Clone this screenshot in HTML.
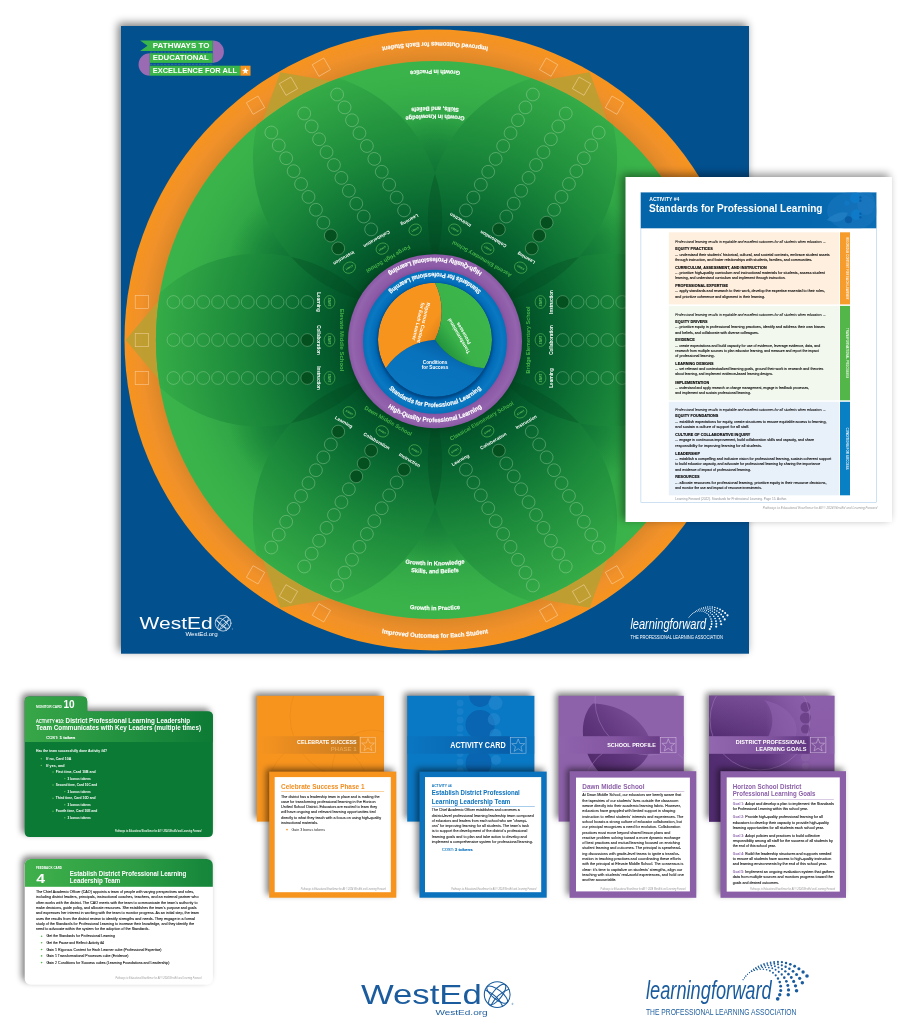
<!DOCTYPE html>
<html lang="en"><head><meta charset="utf-8"><title>Pathways to Educational Excellence for All</title>
<style>html,body{margin:0;padding:0;background:#fff}svg{display:block;will-change:transform;-webkit-font-smoothing:antialiased}text{font-family:'Liberation Sans',sans-serif}</style></head>
<body>
<svg width="909" height="1024" viewBox="0 0 909 1024">
<rect width="909" height="1024" fill="#ffffff"/>
<defs>
<filter id="shB" x="-5%" y="-5%" width="110%" height="110%"><feGaussianBlur stdDeviation="4.5"/></filter>
<filter id="shC" x="-10%" y="-10%" width="120%" height="120%"><feGaussianBlur stdDeviation="3"/></filter>
<filter id="blur1"><feGaussianBlur stdDeviation="1.2"/></filter>
<filter id="blur2"><feGaussianBlur stdDeviation="2.5"/></filter>
<radialGradient id="gOr" gradientUnits="userSpaceOnUse" cx="435.0" cy="340.0" r="310.5"><stop offset="0.895" stop-color="#db8628"/><stop offset="0.95" stop-color="#f0912a"/><stop offset="1" stop-color="#f7941e"/></radialGradient>
<radialGradient id="gGr" gradientUnits="userSpaceOnUse" cx="435.0" cy="340.0" r="279.1"><stop offset="0.25" stop-color="#045c2c"/><stop offset="0.55" stop-color="#0f7535"/><stop offset="0.605" stop-color="#147b37"/><stop offset="0.716" stop-color="#25963f"/><stop offset="0.806" stop-color="#31a746"/><stop offset="0.896" stop-color="#38b049"/><stop offset="0.96" stop-color="#3ab34a"/><stop offset="1" stop-color="#3ab44a"/></radialGradient>
<radialGradient id="gPet" gradientUnits="userSpaceOnUse" cx="0" cy="0" r="279.1"><stop offset="0.30" stop-color="#034d26"/><stop offset="0.41" stop-color="#045e2d"/><stop offset="0.555" stop-color="#0f7535"/><stop offset="0.70" stop-color="#1c8a3b"/><stop offset="0.84" stop-color="#289a41"/><stop offset="1" stop-color="#35ac47"/></radialGradient>
<radialGradient id="gTip" cx="0.5" cy="0.5" r="0.5"><stop offset="0" stop-color="#0f7535" stop-opacity="0.85"/><stop offset="0.5" stop-color="#17823a" stop-opacity="0.6"/><stop offset="0.8" stop-color="#1f8f3d" stop-opacity="0.3"/><stop offset="1" stop-color="#249640" stop-opacity="0"/></radialGradient>
<clipPath id="cpP0"><path transform="translate(435.0 340.0) rotate(0)" d="M41.00 0 A147.04 147.04 0 0 1 309.00 0 A147.04 147.04 0 0 1 41.00 0 Z"/></clipPath>
<clipPath id="cpP60"><path transform="translate(435.0 340.0) rotate(60)" d="M41.00 0 A147.04 147.04 0 0 1 309.00 0 A147.04 147.04 0 0 1 41.00 0 Z"/></clipPath>
<clipPath id="cpP120"><path transform="translate(435.0 340.0) rotate(120)" d="M41.00 0 A147.04 147.04 0 0 1 309.00 0 A147.04 147.04 0 0 1 41.00 0 Z"/></clipPath>
<clipPath id="cpP180"><path transform="translate(435.0 340.0) rotate(180)" d="M41.00 0 A147.04 147.04 0 0 1 309.00 0 A147.04 147.04 0 0 1 41.00 0 Z"/></clipPath>
<clipPath id="cpP240"><path transform="translate(435.0 340.0) rotate(240)" d="M41.00 0 A147.04 147.04 0 0 1 309.00 0 A147.04 147.04 0 0 1 41.00 0 Z"/></clipPath>
<clipPath id="cpP300"><path transform="translate(435.0 340.0) rotate(300)" d="M41.00 0 A147.04 147.04 0 0 1 309.00 0 A147.04 147.04 0 0 1 41.00 0 Z"/></clipPath>
<clipPath id="clipGr"><circle cx="435.0" cy="340.0" r="279.1"/></clipPath>
<clipPath id="clipBoard"><rect x="121" y="26" width="628" height="627.7"/></clipPath>
</defs>
<rect x="118" y="23" width="629" height="628" fill="#000" opacity="0.5" filter="url(#shB)"/>
<rect x="121" y="26" width="628" height="627.7" fill="#03508f"/>
<g clip-path="url(#clipBoard)">
<circle cx="435.0" cy="340.0" r="310.5" fill="url(#gOr)"/>
<path transform="translate(435.0 340.0) rotate(180)" d="M309.3 0 L272 -44.5 L272 44.5 Z" fill="#bd9f32" opacity="0.95"/>
<path transform="translate(435.0 340.0) rotate(240)" d="M309.3 0 L272 -44.5 L272 44.5 Z" fill="#bd9f32" opacity="0.95"/>
<path transform="translate(435.0 340.0) rotate(300)" d="M309.3 0 L272 -44.5 L272 44.5 Z" fill="#bd9f32" opacity="0.95"/>
<path transform="translate(435.0 340.0) rotate(0)" d="M309.3 0 L272 -44.5 L272 44.5 Z" fill="#bd9f32" opacity="0.95"/>
<path transform="translate(435.0 340.0) rotate(60)" d="M309.3 0 L272 -44.5 L272 44.5 Z" fill="#bd9f32" opacity="0.95"/>
<path transform="translate(435.0 340.0) rotate(120)" d="M309.3 0 L272 -44.5 L272 44.5 Z" fill="#bd9f32" opacity="0.95"/>
<circle cx="435.0" cy="340.0" r="279.1" fill="url(#gGr)"/>
<g clip-path="url(#clipGr)">
<circle cx="582.22" cy="425.00" r="58" fill="url(#gTip)"/>
<circle cx="435.00" cy="510.00" r="58" fill="url(#gTip)"/>
<circle cx="287.78" cy="425.00" r="58" fill="url(#gTip)"/>
<circle cx="287.78" cy="255.00" r="58" fill="url(#gTip)"/>
<circle cx="435.00" cy="170.00" r="58" fill="url(#gTip)"/>
<circle cx="582.22" cy="255.00" r="58" fill="url(#gTip)"/>
<path transform="translate(435.0 340.0) rotate(180)" d="M41.00 0 A147.04 147.04 0 0 1 309.00 0 A147.04 147.04 0 0 1 41.00 0 Z" fill="url(#gPet)"/>
<path transform="translate(435.0 340.0) rotate(240)" d="M41.00 0 A147.04 147.04 0 0 1 309.00 0 A147.04 147.04 0 0 1 41.00 0 Z" fill="url(#gPet)"/>
<path transform="translate(435.0 340.0) rotate(300)" d="M41.00 0 A147.04 147.04 0 0 1 309.00 0 A147.04 147.04 0 0 1 41.00 0 Z" fill="url(#gPet)"/>
<path transform="translate(435.0 340.0) rotate(0)" d="M41.00 0 A147.04 147.04 0 0 1 309.00 0 A147.04 147.04 0 0 1 41.00 0 Z" fill="url(#gPet)"/>
<path transform="translate(435.0 340.0) rotate(60)" d="M41.00 0 A147.04 147.04 0 0 1 309.00 0 A147.04 147.04 0 0 1 41.00 0 Z" fill="url(#gPet)"/>
<path transform="translate(435.0 340.0) rotate(120)" d="M41.00 0 A147.04 147.04 0 0 1 309.00 0 A147.04 147.04 0 0 1 41.00 0 Z" fill="url(#gPet)"/>
<g clip-path="url(#cpP0)"><path transform="translate(435.0 340.0) rotate(60)" d="M41.00 0 A147.04 147.04 0 0 1 309.00 0 A147.04 147.04 0 0 1 41.00 0 Z" fill="#03401c" opacity="0.28"/></g>
<g clip-path="url(#cpP60)"><path transform="translate(435.0 340.0) rotate(120)" d="M41.00 0 A147.04 147.04 0 0 1 309.00 0 A147.04 147.04 0 0 1 41.00 0 Z" fill="#03401c" opacity="0.28"/></g>
<g clip-path="url(#cpP120)"><path transform="translate(435.0 340.0) rotate(180)" d="M41.00 0 A147.04 147.04 0 0 1 309.00 0 A147.04 147.04 0 0 1 41.00 0 Z" fill="#03401c" opacity="0.28"/></g>
<g clip-path="url(#cpP180)"><path transform="translate(435.0 340.0) rotate(240)" d="M41.00 0 A147.04 147.04 0 0 1 309.00 0 A147.04 147.04 0 0 1 41.00 0 Z" fill="#03401c" opacity="0.28"/></g>
<g clip-path="url(#cpP240)"><path transform="translate(435.0 340.0) rotate(300)" d="M41.00 0 A147.04 147.04 0 0 1 309.00 0 A147.04 147.04 0 0 1 41.00 0 Z" fill="#03401c" opacity="0.28"/></g>
<g clip-path="url(#cpP300)"><path transform="translate(435.0 340.0) rotate(360)" d="M41.00 0 A147.04 147.04 0 0 1 309.00 0 A147.04 147.04 0 0 1 41.00 0 Z" fill="#03401c" opacity="0.28"/></g>
</g>
<g transform="translate(435.0 340.0) rotate(90)">
<circle cx="-38.0" cy="127.70" r="6.4" fill="none" stroke="#c4e6c4" stroke-opacity="0.55" stroke-width="0.55"/>
<circle cx="-38.0" cy="142.57" r="6.4" fill="none" stroke="#c4e6c4" stroke-opacity="0.55" stroke-width="0.55"/>
<circle cx="-38.0" cy="157.44" r="6.4" fill="none" stroke="#c4e6c4" stroke-opacity="0.55" stroke-width="0.55"/>
<circle cx="-38.0" cy="172.31" r="6.4" fill="none" stroke="#c4e6c4" stroke-opacity="0.55" stroke-width="0.55"/>
<circle cx="-38.0" cy="187.18" r="6.4" fill="none" stroke="#c4e6c4" stroke-opacity="0.55" stroke-width="0.55"/>
<circle cx="-38.0" cy="202.05" r="6.4" fill="none" stroke="#c4e6c4" stroke-opacity="0.55" stroke-width="0.55"/>
<circle cx="-38.0" cy="216.92" r="6.4" fill="none" stroke="#c4e6c4" stroke-opacity="0.55" stroke-width="0.55"/>
<circle cx="-38.0" cy="231.79" r="6.4" fill="none" stroke="#c4e6c4" stroke-opacity="0.55" stroke-width="0.55"/>
<circle cx="-38.0" cy="246.66" r="6.4" fill="none" stroke="#c4e6c4" stroke-opacity="0.55" stroke-width="0.55"/>
<circle cx="-38.0" cy="261.53" r="6.4" fill="none" stroke="#c4e6c4" stroke-opacity="0.55" stroke-width="0.55"/>
<rect x="-44.70" y="286.40" width="13.4" height="13.4" fill="none" stroke="#fde3c0" stroke-opacity="0.7" stroke-width="0.6"/>
<text x="-38.00" y="118.20" font-size="4.6" fill="#ffffff" font-weight="bold" text-anchor="middle">Learning</text>
<ellipse cx="-38.0" cy="105.5" rx="6.4" ry="5.4" fill="none" stroke="#5fc35a" stroke-width="0.55"/>
<text x="-38.00" y="106.60" font-size="2.6" fill="#5fc35a" font-weight="bold" text-anchor="middle">START</text>
<circle cx="0.0" cy="127.70" r="6.4" fill="#04511f" stroke="#c4e6c4" stroke-opacity="0.55" stroke-width="0.55"/>
<circle cx="0.0" cy="142.57" r="6.4" fill="none" stroke="#c4e6c4" stroke-opacity="0.55" stroke-width="0.55"/>
<circle cx="0.0" cy="157.44" r="6.4" fill="none" stroke="#c4e6c4" stroke-opacity="0.55" stroke-width="0.55"/>
<circle cx="0.0" cy="172.31" r="6.4" fill="none" stroke="#c4e6c4" stroke-opacity="0.55" stroke-width="0.55"/>
<circle cx="0.0" cy="187.18" r="6.4" fill="none" stroke="#c4e6c4" stroke-opacity="0.55" stroke-width="0.55"/>
<circle cx="0.0" cy="202.05" r="6.4" fill="none" stroke="#c4e6c4" stroke-opacity="0.55" stroke-width="0.55"/>
<circle cx="0.0" cy="216.92" r="6.4" fill="none" stroke="#c4e6c4" stroke-opacity="0.55" stroke-width="0.55"/>
<circle cx="0.0" cy="231.79" r="6.4" fill="none" stroke="#c4e6c4" stroke-opacity="0.55" stroke-width="0.55"/>
<circle cx="0.0" cy="246.66" r="6.4" fill="none" stroke="#c4e6c4" stroke-opacity="0.55" stroke-width="0.55"/>
<circle cx="0.0" cy="261.53" r="6.4" fill="none" stroke="#c4e6c4" stroke-opacity="0.55" stroke-width="0.55"/>
<rect x="-6.70" y="286.40" width="13.4" height="13.4" fill="none" stroke="#fde3c0" stroke-opacity="0.7" stroke-width="0.6"/>
<text x="0.00" y="118.20" font-size="4.6" fill="#ffffff" font-weight="bold" text-anchor="middle">Collaboration</text>
<ellipse cx="0.0" cy="105.5" rx="6.4" ry="5.4" fill="none" stroke="#5fc35a" stroke-width="0.55"/>
<text x="0.00" y="106.60" font-size="2.6" fill="#5fc35a" font-weight="bold" text-anchor="middle">START</text>
<circle cx="38.0" cy="127.70" r="6.4" fill="#04511f" stroke="#c4e6c4" stroke-opacity="0.55" stroke-width="0.55"/>
<circle cx="38.0" cy="142.57" r="6.4" fill="none" stroke="#c4e6c4" stroke-opacity="0.55" stroke-width="0.55"/>
<circle cx="38.0" cy="157.44" r="6.4" fill="none" stroke="#c4e6c4" stroke-opacity="0.55" stroke-width="0.55"/>
<circle cx="38.0" cy="172.31" r="6.4" fill="none" stroke="#c4e6c4" stroke-opacity="0.55" stroke-width="0.55"/>
<circle cx="38.0" cy="187.18" r="6.4" fill="none" stroke="#c4e6c4" stroke-opacity="0.55" stroke-width="0.55"/>
<circle cx="38.0" cy="202.05" r="6.4" fill="none" stroke="#c4e6c4" stroke-opacity="0.55" stroke-width="0.55"/>
<circle cx="38.0" cy="216.92" r="6.4" fill="none" stroke="#c4e6c4" stroke-opacity="0.55" stroke-width="0.55"/>
<circle cx="38.0" cy="231.79" r="6.4" fill="none" stroke="#c4e6c4" stroke-opacity="0.55" stroke-width="0.55"/>
<circle cx="38.0" cy="246.66" r="6.4" fill="none" stroke="#c4e6c4" stroke-opacity="0.55" stroke-width="0.55"/>
<circle cx="38.0" cy="261.53" r="6.4" fill="none" stroke="#c4e6c4" stroke-opacity="0.55" stroke-width="0.55"/>
<rect x="31.30" y="286.40" width="13.4" height="13.4" fill="none" stroke="#fde3c0" stroke-opacity="0.7" stroke-width="0.6"/>
<text x="38.00" y="118.20" font-size="4.6" fill="#ffffff" font-weight="bold" text-anchor="middle">Instruction</text>
<ellipse cx="38.0" cy="105.5" rx="6.4" ry="5.4" fill="none" stroke="#5fc35a" stroke-width="0.55"/>
<text x="38.00" y="106.60" font-size="2.6" fill="#5fc35a" font-weight="bold" text-anchor="middle">START</text>
<text x="0.00" y="95.40" font-size="5.6" fill="#47b44b" font-weight="bold" text-anchor="middle" font-family="'Liberation Serif', serif" textLength="62.70" lengthAdjust="spacingAndGlyphs">Elevate Middle School</text>
</g>
<g transform="translate(435.0 340.0) rotate(150)">
<circle cx="-38.0" cy="127.70" r="6.4" fill="none" stroke="#c4e6c4" stroke-opacity="0.55" stroke-width="0.55"/>
<circle cx="-38.0" cy="142.57" r="6.4" fill="none" stroke="#c4e6c4" stroke-opacity="0.55" stroke-width="0.55"/>
<circle cx="-38.0" cy="157.44" r="6.4" fill="none" stroke="#c4e6c4" stroke-opacity="0.55" stroke-width="0.55"/>
<circle cx="-38.0" cy="172.31" r="6.4" fill="none" stroke="#c4e6c4" stroke-opacity="0.55" stroke-width="0.55"/>
<circle cx="-38.0" cy="187.18" r="6.4" fill="none" stroke="#c4e6c4" stroke-opacity="0.55" stroke-width="0.55"/>
<circle cx="-38.0" cy="202.05" r="6.4" fill="none" stroke="#c4e6c4" stroke-opacity="0.55" stroke-width="0.55"/>
<circle cx="-38.0" cy="216.92" r="6.4" fill="none" stroke="#c4e6c4" stroke-opacity="0.55" stroke-width="0.55"/>
<circle cx="-38.0" cy="231.79" r="6.4" fill="none" stroke="#c4e6c4" stroke-opacity="0.55" stroke-width="0.55"/>
<circle cx="-38.0" cy="246.66" r="6.4" fill="none" stroke="#c4e6c4" stroke-opacity="0.55" stroke-width="0.55"/>
<circle cx="-38.0" cy="261.53" r="6.4" fill="none" stroke="#c4e6c4" stroke-opacity="0.55" stroke-width="0.55"/>
<rect x="-44.70" y="286.40" width="13.4" height="13.4" fill="none" stroke="#fde3c0" stroke-opacity="0.7" stroke-width="0.6"/>
<text x="-38.00" y="118.20" font-size="4.6" fill="#ffffff" font-weight="bold" text-anchor="middle">Learning</text>
<ellipse cx="-38.0" cy="105.5" rx="6.4" ry="5.4" fill="none" stroke="#5fc35a" stroke-width="0.55"/>
<text x="-38.00" y="106.60" font-size="2.6" fill="#5fc35a" font-weight="bold" text-anchor="middle">START</text>
<circle cx="0.0" cy="127.70" r="6.4" fill="none" stroke="#c4e6c4" stroke-opacity="0.55" stroke-width="0.55"/>
<circle cx="0.0" cy="142.57" r="6.4" fill="none" stroke="#c4e6c4" stroke-opacity="0.55" stroke-width="0.55"/>
<circle cx="0.0" cy="157.44" r="6.4" fill="none" stroke="#c4e6c4" stroke-opacity="0.55" stroke-width="0.55"/>
<circle cx="0.0" cy="172.31" r="6.4" fill="none" stroke="#c4e6c4" stroke-opacity="0.55" stroke-width="0.55"/>
<circle cx="0.0" cy="187.18" r="6.4" fill="none" stroke="#c4e6c4" stroke-opacity="0.55" stroke-width="0.55"/>
<circle cx="0.0" cy="202.05" r="6.4" fill="none" stroke="#c4e6c4" stroke-opacity="0.55" stroke-width="0.55"/>
<circle cx="0.0" cy="216.92" r="6.4" fill="none" stroke="#c4e6c4" stroke-opacity="0.55" stroke-width="0.55"/>
<circle cx="0.0" cy="231.79" r="6.4" fill="none" stroke="#c4e6c4" stroke-opacity="0.55" stroke-width="0.55"/>
<circle cx="0.0" cy="246.66" r="6.4" fill="none" stroke="#c4e6c4" stroke-opacity="0.55" stroke-width="0.55"/>
<circle cx="0.0" cy="261.53" r="6.4" fill="none" stroke="#c4e6c4" stroke-opacity="0.55" stroke-width="0.55"/>
<rect x="-6.70" y="286.40" width="13.4" height="13.4" fill="none" stroke="#fde3c0" stroke-opacity="0.7" stroke-width="0.6"/>
<text x="0.00" y="118.20" font-size="4.6" fill="#ffffff" font-weight="bold" text-anchor="middle">Collaboration</text>
<ellipse cx="0.0" cy="105.5" rx="6.4" ry="5.4" fill="none" stroke="#5fc35a" stroke-width="0.55"/>
<text x="0.00" y="106.60" font-size="2.6" fill="#5fc35a" font-weight="bold" text-anchor="middle">START</text>
<circle cx="38.0" cy="127.70" r="6.4" fill="#04511f" stroke="#c4e6c4" stroke-opacity="0.55" stroke-width="0.55"/>
<circle cx="38.0" cy="142.57" r="6.4" fill="#04511f" stroke="#c4e6c4" stroke-opacity="0.55" stroke-width="0.55"/>
<circle cx="38.0" cy="157.44" r="6.4" fill="none" stroke="#c4e6c4" stroke-opacity="0.55" stroke-width="0.55"/>
<circle cx="38.0" cy="172.31" r="6.4" fill="none" stroke="#c4e6c4" stroke-opacity="0.55" stroke-width="0.55"/>
<circle cx="38.0" cy="187.18" r="6.4" fill="none" stroke="#c4e6c4" stroke-opacity="0.55" stroke-width="0.55"/>
<circle cx="38.0" cy="202.05" r="6.4" fill="none" stroke="#c4e6c4" stroke-opacity="0.55" stroke-width="0.55"/>
<circle cx="38.0" cy="216.92" r="6.4" fill="none" stroke="#c4e6c4" stroke-opacity="0.55" stroke-width="0.55"/>
<circle cx="38.0" cy="231.79" r="6.4" fill="none" stroke="#c4e6c4" stroke-opacity="0.55" stroke-width="0.55"/>
<circle cx="38.0" cy="246.66" r="6.4" fill="none" stroke="#c4e6c4" stroke-opacity="0.55" stroke-width="0.55"/>
<circle cx="38.0" cy="261.53" r="6.4" fill="none" stroke="#c4e6c4" stroke-opacity="0.55" stroke-width="0.55"/>
<rect x="31.30" y="286.40" width="13.4" height="13.4" fill="none" stroke="#fde3c0" stroke-opacity="0.7" stroke-width="0.6"/>
<text x="38.00" y="118.20" font-size="4.6" fill="#ffffff" font-weight="bold" text-anchor="middle">Instruction</text>
<ellipse cx="38.0" cy="105.5" rx="6.4" ry="5.4" fill="none" stroke="#5fc35a" stroke-width="0.55"/>
<text x="38.00" y="106.60" font-size="2.6" fill="#5fc35a" font-weight="bold" text-anchor="middle">START</text>
<text x="0.00" y="95.40" font-size="5.6" fill="#47b44b" font-weight="bold" text-anchor="middle" font-family="'Liberation Serif', serif" textLength="50.00" lengthAdjust="spacingAndGlyphs">Forge High School</text>
</g>
<g transform="translate(435.0 340.0) rotate(210)">
<circle cx="-38.0" cy="127.70" r="6.4" fill="#04511f" stroke="#c4e6c4" stroke-opacity="0.55" stroke-width="0.55"/>
<circle cx="-38.0" cy="142.57" r="6.4" fill="#04511f" stroke="#c4e6c4" stroke-opacity="0.55" stroke-width="0.55"/>
<circle cx="-38.0" cy="157.44" r="6.4" fill="#04511f" stroke="#c4e6c4" stroke-opacity="0.55" stroke-width="0.55"/>
<circle cx="-38.0" cy="172.31" r="6.4" fill="none" stroke="#c4e6c4" stroke-opacity="0.55" stroke-width="0.55"/>
<circle cx="-38.0" cy="187.18" r="6.4" fill="none" stroke="#c4e6c4" stroke-opacity="0.55" stroke-width="0.55"/>
<circle cx="-38.0" cy="202.05" r="6.4" fill="none" stroke="#c4e6c4" stroke-opacity="0.55" stroke-width="0.55"/>
<circle cx="-38.0" cy="216.92" r="6.4" fill="none" stroke="#c4e6c4" stroke-opacity="0.55" stroke-width="0.55"/>
<circle cx="-38.0" cy="231.79" r="6.4" fill="none" stroke="#c4e6c4" stroke-opacity="0.55" stroke-width="0.55"/>
<circle cx="-38.0" cy="246.66" r="6.4" fill="none" stroke="#c4e6c4" stroke-opacity="0.55" stroke-width="0.55"/>
<circle cx="-38.0" cy="261.53" r="6.4" fill="none" stroke="#c4e6c4" stroke-opacity="0.55" stroke-width="0.55"/>
<rect x="-44.70" y="286.40" width="13.4" height="13.4" fill="none" stroke="#fde3c0" stroke-opacity="0.7" stroke-width="0.6"/>
<text x="-38.00" y="118.20" font-size="4.6" fill="#ffffff" font-weight="bold" text-anchor="middle">Learning</text>
<ellipse cx="-38.0" cy="105.5" rx="6.4" ry="5.4" fill="none" stroke="#5fc35a" stroke-width="0.55"/>
<text x="-38.00" y="106.60" font-size="2.6" fill="#5fc35a" font-weight="bold" text-anchor="middle">START</text>
<circle cx="0.0" cy="127.70" r="6.4" fill="#04511f" stroke="#c4e6c4" stroke-opacity="0.55" stroke-width="0.55"/>
<circle cx="0.0" cy="142.57" r="6.4" fill="none" stroke="#c4e6c4" stroke-opacity="0.55" stroke-width="0.55"/>
<circle cx="0.0" cy="157.44" r="6.4" fill="none" stroke="#c4e6c4" stroke-opacity="0.55" stroke-width="0.55"/>
<circle cx="0.0" cy="172.31" r="6.4" fill="none" stroke="#c4e6c4" stroke-opacity="0.55" stroke-width="0.55"/>
<circle cx="0.0" cy="187.18" r="6.4" fill="none" stroke="#c4e6c4" stroke-opacity="0.55" stroke-width="0.55"/>
<circle cx="0.0" cy="202.05" r="6.4" fill="none" stroke="#c4e6c4" stroke-opacity="0.55" stroke-width="0.55"/>
<circle cx="0.0" cy="216.92" r="6.4" fill="none" stroke="#c4e6c4" stroke-opacity="0.55" stroke-width="0.55"/>
<circle cx="0.0" cy="231.79" r="6.4" fill="none" stroke="#c4e6c4" stroke-opacity="0.55" stroke-width="0.55"/>
<circle cx="0.0" cy="246.66" r="6.4" fill="none" stroke="#c4e6c4" stroke-opacity="0.55" stroke-width="0.55"/>
<circle cx="0.0" cy="261.53" r="6.4" fill="none" stroke="#c4e6c4" stroke-opacity="0.55" stroke-width="0.55"/>
<rect x="-6.70" y="286.40" width="13.4" height="13.4" fill="none" stroke="#fde3c0" stroke-opacity="0.7" stroke-width="0.6"/>
<text x="0.00" y="118.20" font-size="4.6" fill="#ffffff" font-weight="bold" text-anchor="middle">Collaboration</text>
<ellipse cx="0.0" cy="105.5" rx="6.4" ry="5.4" fill="none" stroke="#5fc35a" stroke-width="0.55"/>
<text x="0.00" y="106.60" font-size="2.6" fill="#5fc35a" font-weight="bold" text-anchor="middle">START</text>
<circle cx="38.0" cy="127.70" r="6.4" fill="none" stroke="#c4e6c4" stroke-opacity="0.55" stroke-width="0.55"/>
<circle cx="38.0" cy="142.57" r="6.4" fill="none" stroke="#c4e6c4" stroke-opacity="0.55" stroke-width="0.55"/>
<circle cx="38.0" cy="157.44" r="6.4" fill="none" stroke="#c4e6c4" stroke-opacity="0.55" stroke-width="0.55"/>
<circle cx="38.0" cy="172.31" r="6.4" fill="none" stroke="#c4e6c4" stroke-opacity="0.55" stroke-width="0.55"/>
<circle cx="38.0" cy="187.18" r="6.4" fill="none" stroke="#c4e6c4" stroke-opacity="0.55" stroke-width="0.55"/>
<circle cx="38.0" cy="202.05" r="6.4" fill="none" stroke="#c4e6c4" stroke-opacity="0.55" stroke-width="0.55"/>
<circle cx="38.0" cy="216.92" r="6.4" fill="none" stroke="#c4e6c4" stroke-opacity="0.55" stroke-width="0.55"/>
<circle cx="38.0" cy="231.79" r="6.4" fill="none" stroke="#c4e6c4" stroke-opacity="0.55" stroke-width="0.55"/>
<circle cx="38.0" cy="246.66" r="6.4" fill="none" stroke="#c4e6c4" stroke-opacity="0.55" stroke-width="0.55"/>
<circle cx="38.0" cy="261.53" r="6.4" fill="none" stroke="#c4e6c4" stroke-opacity="0.55" stroke-width="0.55"/>
<rect x="31.30" y="286.40" width="13.4" height="13.4" fill="none" stroke="#fde3c0" stroke-opacity="0.7" stroke-width="0.6"/>
<text x="38.00" y="118.20" font-size="4.6" fill="#ffffff" font-weight="bold" text-anchor="middle">Instruction</text>
<ellipse cx="38.0" cy="105.5" rx="6.4" ry="5.4" fill="none" stroke="#5fc35a" stroke-width="0.55"/>
<text x="38.00" y="106.60" font-size="2.6" fill="#5fc35a" font-weight="bold" text-anchor="middle">START</text>
<text x="0.00" y="95.40" font-size="5.6" fill="#47b44b" font-weight="bold" text-anchor="middle" font-family="'Liberation Serif', serif" textLength="67.50" lengthAdjust="spacingAndGlyphs">Ascend Elementary School</text>
</g>
<g transform="translate(435.0 340.0) rotate(-90)">
<circle cx="-38.0" cy="127.70" r="6.4" fill="none" stroke="#c4e6c4" stroke-opacity="0.55" stroke-width="0.55"/>
<circle cx="-38.0" cy="142.57" r="6.4" fill="none" stroke="#c4e6c4" stroke-opacity="0.55" stroke-width="0.55"/>
<circle cx="-38.0" cy="157.44" r="6.4" fill="none" stroke="#c4e6c4" stroke-opacity="0.55" stroke-width="0.55"/>
<circle cx="-38.0" cy="172.31" r="6.4" fill="none" stroke="#c4e6c4" stroke-opacity="0.55" stroke-width="0.55"/>
<circle cx="-38.0" cy="187.18" r="6.4" fill="none" stroke="#c4e6c4" stroke-opacity="0.55" stroke-width="0.55"/>
<circle cx="-38.0" cy="202.05" r="6.4" fill="none" stroke="#c4e6c4" stroke-opacity="0.55" stroke-width="0.55"/>
<circle cx="-38.0" cy="216.92" r="6.4" fill="none" stroke="#c4e6c4" stroke-opacity="0.55" stroke-width="0.55"/>
<circle cx="-38.0" cy="231.79" r="6.4" fill="none" stroke="#c4e6c4" stroke-opacity="0.55" stroke-width="0.55"/>
<circle cx="-38.0" cy="246.66" r="6.4" fill="none" stroke="#c4e6c4" stroke-opacity="0.55" stroke-width="0.55"/>
<circle cx="-38.0" cy="261.53" r="6.4" fill="none" stroke="#c4e6c4" stroke-opacity="0.55" stroke-width="0.55"/>
<rect x="-44.70" y="286.40" width="13.4" height="13.4" fill="none" stroke="#fde3c0" stroke-opacity="0.7" stroke-width="0.6"/>
<text x="-38.00" y="118.20" font-size="4.6" fill="#ffffff" font-weight="bold" text-anchor="middle">Learning</text>
<ellipse cx="-38.0" cy="105.5" rx="6.4" ry="5.4" fill="none" stroke="#5fc35a" stroke-width="0.55"/>
<text x="-38.00" y="106.60" font-size="2.6" fill="#5fc35a" font-weight="bold" text-anchor="middle">START</text>
<circle cx="0.0" cy="127.70" r="6.4" fill="none" stroke="#c4e6c4" stroke-opacity="0.55" stroke-width="0.55"/>
<circle cx="0.0" cy="142.57" r="6.4" fill="none" stroke="#c4e6c4" stroke-opacity="0.55" stroke-width="0.55"/>
<circle cx="0.0" cy="157.44" r="6.4" fill="none" stroke="#c4e6c4" stroke-opacity="0.55" stroke-width="0.55"/>
<circle cx="0.0" cy="172.31" r="6.4" fill="none" stroke="#c4e6c4" stroke-opacity="0.55" stroke-width="0.55"/>
<circle cx="0.0" cy="187.18" r="6.4" fill="none" stroke="#c4e6c4" stroke-opacity="0.55" stroke-width="0.55"/>
<circle cx="0.0" cy="202.05" r="6.4" fill="none" stroke="#c4e6c4" stroke-opacity="0.55" stroke-width="0.55"/>
<circle cx="0.0" cy="216.92" r="6.4" fill="none" stroke="#c4e6c4" stroke-opacity="0.55" stroke-width="0.55"/>
<circle cx="0.0" cy="231.79" r="6.4" fill="none" stroke="#c4e6c4" stroke-opacity="0.55" stroke-width="0.55"/>
<circle cx="0.0" cy="246.66" r="6.4" fill="none" stroke="#c4e6c4" stroke-opacity="0.55" stroke-width="0.55"/>
<circle cx="0.0" cy="261.53" r="6.4" fill="none" stroke="#c4e6c4" stroke-opacity="0.55" stroke-width="0.55"/>
<rect x="-6.70" y="286.40" width="13.4" height="13.4" fill="none" stroke="#fde3c0" stroke-opacity="0.7" stroke-width="0.6"/>
<text x="0.00" y="118.20" font-size="4.6" fill="#ffffff" font-weight="bold" text-anchor="middle">Collaboration</text>
<ellipse cx="0.0" cy="105.5" rx="6.4" ry="5.4" fill="none" stroke="#5fc35a" stroke-width="0.55"/>
<text x="0.00" y="106.60" font-size="2.6" fill="#5fc35a" font-weight="bold" text-anchor="middle">START</text>
<circle cx="38.0" cy="127.70" r="6.4" fill="#04511f" stroke="#c4e6c4" stroke-opacity="0.55" stroke-width="0.55"/>
<circle cx="38.0" cy="142.57" r="6.4" fill="none" stroke="#c4e6c4" stroke-opacity="0.55" stroke-width="0.55"/>
<circle cx="38.0" cy="157.44" r="6.4" fill="none" stroke="#c4e6c4" stroke-opacity="0.55" stroke-width="0.55"/>
<circle cx="38.0" cy="172.31" r="6.4" fill="none" stroke="#c4e6c4" stroke-opacity="0.55" stroke-width="0.55"/>
<circle cx="38.0" cy="187.18" r="6.4" fill="none" stroke="#c4e6c4" stroke-opacity="0.55" stroke-width="0.55"/>
<circle cx="38.0" cy="202.05" r="6.4" fill="none" stroke="#c4e6c4" stroke-opacity="0.55" stroke-width="0.55"/>
<circle cx="38.0" cy="216.92" r="6.4" fill="none" stroke="#c4e6c4" stroke-opacity="0.55" stroke-width="0.55"/>
<circle cx="38.0" cy="231.79" r="6.4" fill="none" stroke="#c4e6c4" stroke-opacity="0.55" stroke-width="0.55"/>
<circle cx="38.0" cy="246.66" r="6.4" fill="none" stroke="#c4e6c4" stroke-opacity="0.55" stroke-width="0.55"/>
<circle cx="38.0" cy="261.53" r="6.4" fill="none" stroke="#c4e6c4" stroke-opacity="0.55" stroke-width="0.55"/>
<rect x="31.30" y="286.40" width="13.4" height="13.4" fill="none" stroke="#fde3c0" stroke-opacity="0.7" stroke-width="0.6"/>
<text x="38.00" y="118.20" font-size="4.6" fill="#ffffff" font-weight="bold" text-anchor="middle">Instruction</text>
<ellipse cx="38.0" cy="105.5" rx="6.4" ry="5.4" fill="none" stroke="#5fc35a" stroke-width="0.55"/>
<text x="38.00" y="106.60" font-size="2.6" fill="#5fc35a" font-weight="bold" text-anchor="middle">START</text>
<text x="0.00" y="95.40" font-size="5.6" fill="#47b44b" font-weight="bold" text-anchor="middle" font-family="'Liberation Serif', serif" textLength="67.00" lengthAdjust="spacingAndGlyphs">Bridge Elementary School</text>
</g>
<g transform="translate(435.0 340.0) rotate(-30)">
<circle cx="-38.0" cy="127.70" r="6.4" fill="none" stroke="#c4e6c4" stroke-opacity="0.55" stroke-width="0.55"/>
<circle cx="-38.0" cy="142.57" r="6.4" fill="none" stroke="#c4e6c4" stroke-opacity="0.55" stroke-width="0.55"/>
<circle cx="-38.0" cy="157.44" r="6.4" fill="none" stroke="#c4e6c4" stroke-opacity="0.55" stroke-width="0.55"/>
<circle cx="-38.0" cy="172.31" r="6.4" fill="none" stroke="#c4e6c4" stroke-opacity="0.55" stroke-width="0.55"/>
<circle cx="-38.0" cy="187.18" r="6.4" fill="none" stroke="#c4e6c4" stroke-opacity="0.55" stroke-width="0.55"/>
<circle cx="-38.0" cy="202.05" r="6.4" fill="none" stroke="#c4e6c4" stroke-opacity="0.55" stroke-width="0.55"/>
<circle cx="-38.0" cy="216.92" r="6.4" fill="none" stroke="#c4e6c4" stroke-opacity="0.55" stroke-width="0.55"/>
<circle cx="-38.0" cy="231.79" r="6.4" fill="none" stroke="#c4e6c4" stroke-opacity="0.55" stroke-width="0.55"/>
<circle cx="-38.0" cy="246.66" r="6.4" fill="none" stroke="#c4e6c4" stroke-opacity="0.55" stroke-width="0.55"/>
<circle cx="-38.0" cy="261.53" r="6.4" fill="none" stroke="#c4e6c4" stroke-opacity="0.55" stroke-width="0.55"/>
<rect x="-44.70" y="286.40" width="13.4" height="13.4" fill="none" stroke="#fde3c0" stroke-opacity="0.7" stroke-width="0.6"/>
<text x="-38.00" y="118.20" font-size="4.6" fill="#ffffff" font-weight="bold" text-anchor="middle">Learning</text>
<ellipse cx="-38.0" cy="105.5" rx="6.4" ry="5.4" fill="none" stroke="#5fc35a" stroke-width="0.55"/>
<text x="-38.00" y="106.60" font-size="2.6" fill="#5fc35a" font-weight="bold" text-anchor="middle">START</text>
<circle cx="0.0" cy="127.70" r="6.4" fill="#04511f" stroke="#c4e6c4" stroke-opacity="0.55" stroke-width="0.55"/>
<circle cx="0.0" cy="142.57" r="6.4" fill="none" stroke="#c4e6c4" stroke-opacity="0.55" stroke-width="0.55"/>
<circle cx="0.0" cy="157.44" r="6.4" fill="none" stroke="#c4e6c4" stroke-opacity="0.55" stroke-width="0.55"/>
<circle cx="0.0" cy="172.31" r="6.4" fill="none" stroke="#c4e6c4" stroke-opacity="0.55" stroke-width="0.55"/>
<circle cx="0.0" cy="187.18" r="6.4" fill="none" stroke="#c4e6c4" stroke-opacity="0.55" stroke-width="0.55"/>
<circle cx="0.0" cy="202.05" r="6.4" fill="none" stroke="#c4e6c4" stroke-opacity="0.55" stroke-width="0.55"/>
<circle cx="0.0" cy="216.92" r="6.4" fill="none" stroke="#c4e6c4" stroke-opacity="0.55" stroke-width="0.55"/>
<circle cx="0.0" cy="231.79" r="6.4" fill="none" stroke="#c4e6c4" stroke-opacity="0.55" stroke-width="0.55"/>
<circle cx="0.0" cy="246.66" r="6.4" fill="none" stroke="#c4e6c4" stroke-opacity="0.55" stroke-width="0.55"/>
<circle cx="0.0" cy="261.53" r="6.4" fill="none" stroke="#c4e6c4" stroke-opacity="0.55" stroke-width="0.55"/>
<rect x="-6.70" y="286.40" width="13.4" height="13.4" fill="none" stroke="#fde3c0" stroke-opacity="0.7" stroke-width="0.6"/>
<text x="0.00" y="118.20" font-size="4.6" fill="#ffffff" font-weight="bold" text-anchor="middle">Collaboration</text>
<ellipse cx="0.0" cy="105.5" rx="6.4" ry="5.4" fill="none" stroke="#5fc35a" stroke-width="0.55"/>
<text x="0.00" y="106.60" font-size="2.6" fill="#5fc35a" font-weight="bold" text-anchor="middle">START</text>
<circle cx="38.0" cy="127.70" r="6.4" fill="none" stroke="#c4e6c4" stroke-opacity="0.55" stroke-width="0.55"/>
<circle cx="38.0" cy="142.57" r="6.4" fill="none" stroke="#c4e6c4" stroke-opacity="0.55" stroke-width="0.55"/>
<circle cx="38.0" cy="157.44" r="6.4" fill="none" stroke="#c4e6c4" stroke-opacity="0.55" stroke-width="0.55"/>
<circle cx="38.0" cy="172.31" r="6.4" fill="none" stroke="#c4e6c4" stroke-opacity="0.55" stroke-width="0.55"/>
<circle cx="38.0" cy="187.18" r="6.4" fill="none" stroke="#c4e6c4" stroke-opacity="0.55" stroke-width="0.55"/>
<circle cx="38.0" cy="202.05" r="6.4" fill="none" stroke="#c4e6c4" stroke-opacity="0.55" stroke-width="0.55"/>
<circle cx="38.0" cy="216.92" r="6.4" fill="none" stroke="#c4e6c4" stroke-opacity="0.55" stroke-width="0.55"/>
<circle cx="38.0" cy="231.79" r="6.4" fill="none" stroke="#c4e6c4" stroke-opacity="0.55" stroke-width="0.55"/>
<circle cx="38.0" cy="246.66" r="6.4" fill="none" stroke="#c4e6c4" stroke-opacity="0.55" stroke-width="0.55"/>
<circle cx="38.0" cy="261.53" r="6.4" fill="none" stroke="#c4e6c4" stroke-opacity="0.55" stroke-width="0.55"/>
<rect x="31.30" y="286.40" width="13.4" height="13.4" fill="none" stroke="#fde3c0" stroke-opacity="0.7" stroke-width="0.6"/>
<text x="38.00" y="118.20" font-size="4.6" fill="#ffffff" font-weight="bold" text-anchor="middle">Instruction</text>
<ellipse cx="38.0" cy="105.5" rx="6.4" ry="5.4" fill="none" stroke="#5fc35a" stroke-width="0.55"/>
<text x="38.00" y="106.60" font-size="2.6" fill="#5fc35a" font-weight="bold" text-anchor="middle">START</text>
<text x="0.00" y="95.40" font-size="5.6" fill="#47b44b" font-weight="bold" text-anchor="middle" font-family="'Liberation Serif', serif" textLength="72.50" lengthAdjust="spacingAndGlyphs">Classical Elementary School</text>
</g>
<g transform="translate(435.0 340.0) rotate(30)">
<circle cx="-38.0" cy="127.70" r="6.4" fill="#04511f" stroke="#c4e6c4" stroke-opacity="0.55" stroke-width="0.55"/>
<circle cx="-38.0" cy="142.57" r="6.4" fill="none" stroke="#c4e6c4" stroke-opacity="0.55" stroke-width="0.55"/>
<circle cx="-38.0" cy="157.44" r="6.4" fill="none" stroke="#c4e6c4" stroke-opacity="0.55" stroke-width="0.55"/>
<circle cx="-38.0" cy="172.31" r="6.4" fill="none" stroke="#c4e6c4" stroke-opacity="0.55" stroke-width="0.55"/>
<circle cx="-38.0" cy="187.18" r="6.4" fill="none" stroke="#c4e6c4" stroke-opacity="0.55" stroke-width="0.55"/>
<circle cx="-38.0" cy="202.05" r="6.4" fill="none" stroke="#c4e6c4" stroke-opacity="0.55" stroke-width="0.55"/>
<circle cx="-38.0" cy="216.92" r="6.4" fill="none" stroke="#c4e6c4" stroke-opacity="0.55" stroke-width="0.55"/>
<circle cx="-38.0" cy="231.79" r="6.4" fill="none" stroke="#c4e6c4" stroke-opacity="0.55" stroke-width="0.55"/>
<circle cx="-38.0" cy="246.66" r="6.4" fill="none" stroke="#c4e6c4" stroke-opacity="0.55" stroke-width="0.55"/>
<circle cx="-38.0" cy="261.53" r="6.4" fill="none" stroke="#c4e6c4" stroke-opacity="0.55" stroke-width="0.55"/>
<rect x="-44.70" y="286.40" width="13.4" height="13.4" fill="none" stroke="#fde3c0" stroke-opacity="0.7" stroke-width="0.6"/>
<text x="-38.00" y="118.20" font-size="4.6" fill="#ffffff" font-weight="bold" text-anchor="middle">Learning</text>
<ellipse cx="-38.0" cy="105.5" rx="6.4" ry="5.4" fill="none" stroke="#5fc35a" stroke-width="0.55"/>
<text x="-38.00" y="106.60" font-size="2.6" fill="#5fc35a" font-weight="bold" text-anchor="middle">START</text>
<circle cx="0.0" cy="127.70" r="6.4" fill="#04511f" stroke="#c4e6c4" stroke-opacity="0.55" stroke-width="0.55"/>
<circle cx="0.0" cy="142.57" r="6.4" fill="#04511f" stroke="#c4e6c4" stroke-opacity="0.55" stroke-width="0.55"/>
<circle cx="0.0" cy="157.44" r="6.4" fill="#04511f" stroke="#c4e6c4" stroke-opacity="0.55" stroke-width="0.55"/>
<circle cx="0.0" cy="172.31" r="6.4" fill="none" stroke="#c4e6c4" stroke-opacity="0.55" stroke-width="0.55"/>
<circle cx="0.0" cy="187.18" r="6.4" fill="none" stroke="#c4e6c4" stroke-opacity="0.55" stroke-width="0.55"/>
<circle cx="0.0" cy="202.05" r="6.4" fill="none" stroke="#c4e6c4" stroke-opacity="0.55" stroke-width="0.55"/>
<circle cx="0.0" cy="216.92" r="6.4" fill="none" stroke="#c4e6c4" stroke-opacity="0.55" stroke-width="0.55"/>
<circle cx="0.0" cy="231.79" r="6.4" fill="none" stroke="#c4e6c4" stroke-opacity="0.55" stroke-width="0.55"/>
<circle cx="0.0" cy="246.66" r="6.4" fill="none" stroke="#c4e6c4" stroke-opacity="0.55" stroke-width="0.55"/>
<circle cx="0.0" cy="261.53" r="6.4" fill="none" stroke="#c4e6c4" stroke-opacity="0.55" stroke-width="0.55"/>
<rect x="-6.70" y="286.40" width="13.4" height="13.4" fill="none" stroke="#fde3c0" stroke-opacity="0.7" stroke-width="0.6"/>
<text x="0.00" y="118.20" font-size="4.6" fill="#ffffff" font-weight="bold" text-anchor="middle">Collaboration</text>
<ellipse cx="0.0" cy="105.5" rx="6.4" ry="5.4" fill="none" stroke="#5fc35a" stroke-width="0.55"/>
<text x="0.00" y="106.60" font-size="2.6" fill="#5fc35a" font-weight="bold" text-anchor="middle">START</text>
<circle cx="38.0" cy="127.70" r="6.4" fill="#04511f" stroke="#c4e6c4" stroke-opacity="0.55" stroke-width="0.55"/>
<circle cx="38.0" cy="142.57" r="6.4" fill="none" stroke="#c4e6c4" stroke-opacity="0.55" stroke-width="0.55"/>
<circle cx="38.0" cy="157.44" r="6.4" fill="none" stroke="#c4e6c4" stroke-opacity="0.55" stroke-width="0.55"/>
<circle cx="38.0" cy="172.31" r="6.4" fill="none" stroke="#c4e6c4" stroke-opacity="0.55" stroke-width="0.55"/>
<circle cx="38.0" cy="187.18" r="6.4" fill="none" stroke="#c4e6c4" stroke-opacity="0.55" stroke-width="0.55"/>
<circle cx="38.0" cy="202.05" r="6.4" fill="none" stroke="#c4e6c4" stroke-opacity="0.55" stroke-width="0.55"/>
<circle cx="38.0" cy="216.92" r="6.4" fill="none" stroke="#c4e6c4" stroke-opacity="0.55" stroke-width="0.55"/>
<circle cx="38.0" cy="231.79" r="6.4" fill="none" stroke="#c4e6c4" stroke-opacity="0.55" stroke-width="0.55"/>
<circle cx="38.0" cy="246.66" r="6.4" fill="none" stroke="#c4e6c4" stroke-opacity="0.55" stroke-width="0.55"/>
<circle cx="38.0" cy="261.53" r="6.4" fill="none" stroke="#c4e6c4" stroke-opacity="0.55" stroke-width="0.55"/>
<rect x="31.30" y="286.40" width="13.4" height="13.4" fill="none" stroke="#fde3c0" stroke-opacity="0.7" stroke-width="0.6"/>
<text x="38.00" y="118.20" font-size="4.6" fill="#ffffff" font-weight="bold" text-anchor="middle">Instruction</text>
<ellipse cx="38.0" cy="105.5" rx="6.4" ry="5.4" fill="none" stroke="#5fc35a" stroke-width="0.55"/>
<text x="38.00" y="106.60" font-size="2.6" fill="#5fc35a" font-weight="bold" text-anchor="middle">START</text>
<text x="0.00" y="95.40" font-size="5.6" fill="#47b44b" font-weight="bold" text-anchor="middle" font-family="'Liberation Serif', serif" textLength="54.00" lengthAdjust="spacingAndGlyphs">Dawn Middle School</text>
</g>
<path id="io0" d="M333.11 619.93 A297.9 297.9 0 0 0 536.89 619.93" fill="none"/>
<text font-size="6.3" font-weight="bold" fill="#fff" stroke="#fff" stroke-width="0.16" text-anchor="middle" textLength="107" lengthAdjust="spacingAndGlyphs"><textPath href="#io0" startOffset="50%">Improved Outcomes for Each Student</textPath></text>
<path id="gp0" d="M365.07 600.99 A270.2 270.2 0 0 0 504.93 600.99" fill="none"/>
<text font-size="6.0" font-weight="bold" fill="#fff" stroke="#fff" stroke-width="0.16" text-anchor="middle" textLength="50.5" lengthAdjust="spacingAndGlyphs"><textPath href="#gp0" startOffset="50%">Growth in Practice</textPath></text>
<path id="gk0" d="M357.91 551.81 A225.4 225.4 0 0 0 512.09 551.81" fill="none"/>
<text font-size="6.0" font-weight="bold" fill="#fff" stroke="#fff" stroke-width="0.16" text-anchor="middle" textLength="59.5" lengthAdjust="spacingAndGlyphs"><textPath href="#gk0" startOffset="50%">Growth in Knowledge</textPath></text>
<path id="gs0" d="M355.21 559.23 A233.3 233.3 0 0 0 514.79 559.23" fill="none"/>
<text font-size="6.0" font-weight="bold" fill="#fff" stroke="#fff" stroke-width="0.16" text-anchor="middle" textLength="48" lengthAdjust="spacingAndGlyphs"><textPath href="#gs0" startOffset="50%">Skills, and Beliefs</textPath></text>
<path id="io1" d="M536.89 60.07 A297.9 297.9 0 0 0 333.11 60.07" fill="none"/>
<text font-size="6.3" font-weight="bold" fill="#fff" stroke="#fff" stroke-width="0.16" text-anchor="middle" textLength="107" lengthAdjust="spacingAndGlyphs"><textPath href="#io1" startOffset="50%">Improved Outcomes for Each Student</textPath></text>
<path id="gp1" d="M504.93 79.01 A270.2 270.2 0 0 0 365.07 79.01" fill="none"/>
<text font-size="6.0" font-weight="bold" fill="#fff" stroke="#fff" stroke-width="0.16" text-anchor="middle" textLength="50.5" lengthAdjust="spacingAndGlyphs"><textPath href="#gp1" startOffset="50%">Growth in Practice</textPath></text>
<path id="gk1" d="M512.09 128.19 A225.4 225.4 0 0 0 357.91 128.19" fill="none"/>
<text font-size="6.0" font-weight="bold" fill="#fff" stroke="#fff" stroke-width="0.16" text-anchor="middle" textLength="59.5" lengthAdjust="spacingAndGlyphs"><textPath href="#gk1" startOffset="50%">Growth in Knowledge</textPath></text>
<path id="gs1" d="M514.79 120.77 A233.3 233.3 0 0 0 355.21 120.77" fill="none"/>
<text font-size="6.0" font-weight="bold" fill="#fff" stroke="#fff" stroke-width="0.16" text-anchor="middle" textLength="48" lengthAdjust="spacingAndGlyphs"><textPath href="#gs1" startOffset="50%">Skills, and Beliefs</textPath></text>
</g>
<g clip-path="url(#clipBoard)"><defs>
<radialGradient id="gPu" gradientUnits="userSpaceOnUse" cx="435.0" cy="341.2" r="87.0"><stop offset="0.80" stop-color="#7a4a96"/><stop offset="0.86" stop-color="#8c5aa6"/><stop offset="0.95" stop-color="#9464ae"/><stop offset="1" stop-color="#8a58a4"/></radialGradient>
<radialGradient id="gBl" gradientUnits="userSpaceOnUse" cx="435.0" cy="341.8" r="72.0"><stop offset="0.74" stop-color="#00539a"/><stop offset="0.82" stop-color="#0068b4"/><stop offset="0.93" stop-color="#0a78c2"/><stop offset="1" stop-color="#0670ba"/></radialGradient>
<linearGradient id="gLO" gradientUnits="userSpaceOnUse" x1="-40" y1="-30" x2="8" y2="6"><stop offset="0" stop-color="#f7941e"/><stop offset="0.62" stop-color="#f7941e"/><stop offset="0.85" stop-color="#e0801a"/><stop offset="1" stop-color="#a85a12"/></linearGradient>
<linearGradient id="gLG" gradientUnits="userSpaceOnUse" x1="48" y1="-20" x2="0" y2="16"><stop offset="0" stop-color="#3cb54a"/><stop offset="0.55" stop-color="#3ab249"/><stop offset="0.85" stop-color="#22913c"/><stop offset="1" stop-color="#0c6e2e"/></linearGradient>
<linearGradient id="gLB" gradientUnits="userSpaceOnUse" x1="-10" y1="56" x2="14" y2="0"><stop offset="0" stop-color="#0a76c0"/><stop offset="0.6" stop-color="#0872bc"/><stop offset="1" stop-color="#045a9e"/></linearGradient>
<clipPath id="clipIn"><circle cx="0" cy="0" r="57.0"/></clipPath>
</defs>
<circle cx="435.0" cy="341.0" r="90.0" fill="#033f1c" opacity="0.55" filter="url(#blur2)"/>
<circle cx="435.0" cy="341.2" r="87.0" fill="url(#gPu)"/>
<circle cx="435.0" cy="341.8" r="72.0" fill="url(#gBl)"/>
<circle cx="435.0" cy="341.3" r="58.2" fill="#003a70" opacity="0.6" filter="url(#blur1)"/>
<g transform="translate(435.0 339.8)"><g clip-path="url(#clipIn)">
<path d="M0 0 A64.0 64.0 0 0 0 49.36 28.50 A57.0 57.0 0 0 1 -49.36 28.50 A64.0 64.0 0 0 1 0 0 Z" fill="url(#gLB)"/>
<path d="M0 0 A64.0 64.0 0 0 0 -49.36 28.50 A57.0 57.0 0 0 1 -0.00 -57.00 A64.0 64.0 0 0 1 0 0 Z" fill="url(#gLO)"/>
<path d="M0 0 A64.0 64.0 0 0 0 0.00 -57.00 A57.0 57.0 0 0 1 49.36 28.50 A64.0 64.0 0 0 1 0 0 Z" fill="url(#gLG)"/>
</g>
<text x="0.00" y="24.10" font-size="4.7" fill="#fff" font-weight="bold" text-anchor="middle">Conditions</text>
<text x="0.00" y="29.30" font-size="4.7" fill="#fff" font-weight="bold" text-anchor="middle">for Success</text>
<g transform="translate(-13.8 -17.6) rotate(104)"><text x="0.00" y="-0.80" font-size="4.9" fill="#fff" font-weight="bold" text-anchor="middle">Rigorous Content</text>
<text x="0.00" y="4.60" font-size="4.9" fill="#fff" font-weight="bold" text-anchor="middle">for Each Learner</text>
</g>
<g transform="translate(26.0 -5.0) rotate(240)"><text x="0.00" y="-0.80" font-size="4.9" fill="#fff" font-weight="bold" text-anchor="middle">Transformational</text>
<text x="0.00" y="4.60" font-size="4.9" fill="#fff" font-weight="bold" text-anchor="middle">Processes</text>
</g>
</g>
<path id="hq0" d="M371.95 392.90 A82.3 82.3 0 0 0 498.05 392.90" fill="none"/>
<text font-size="6.4" font-weight="bold" fill="#fff" stroke="#fff" stroke-width="0.16" text-anchor="middle" textLength="100" lengthAdjust="spacingAndGlyphs"><textPath href="#hq0" startOffset="50%">High-Quality Professional Learning</textPath></text>
<path id="sp0" d="M376.80 373.60 A67.2 67.2 0 0 0 493.20 373.60" fill="none"/>
<text font-size="6.4" font-weight="bold" fill="#fff" stroke="#fff" stroke-width="0.16" text-anchor="middle" textLength="102" lengthAdjust="spacingAndGlyphs"><textPath href="#sp0" startOffset="50%">Standards for Professional Learning</textPath></text>
<path id="hq1" d="M498.05 287.10 A82.3 82.3 0 0 0 371.95 287.10" fill="none"/>
<text font-size="6.4" font-weight="bold" fill="#fff" stroke="#fff" stroke-width="0.16" text-anchor="middle" textLength="100" lengthAdjust="spacingAndGlyphs"><textPath href="#hq1" startOffset="50%">High-Quality Professional Learning</textPath></text>
<path id="sp1" d="M493.20 306.40 A67.2 67.2 0 0 0 376.80 306.40" fill="none"/>
<text font-size="6.4" font-weight="bold" fill="#fff" stroke="#fff" stroke-width="0.16" text-anchor="middle" textLength="102" lengthAdjust="spacingAndGlyphs"><textPath href="#sp1" startOffset="50%">Standards for Professional Learning</textPath></text>
</g>
<path d="M212.7 40.5 A11.2 11.2 0 0 1 212.7 62.9 Z" fill="#9a6bb3"/>
<path d="M149.8 53.2 A11.25 11.25 0 0 0 149.8 75.7 Z" fill="#9a6bb3"/>
<path d="M140.1 40.5 L212.7 40.5 L212.7 51.1 L140.1 51.1 L147.5 45.8 Z" fill="#39b54a"/>
<rect x="149.8" y="53.2" width="62.9" height="9.7" fill="#39b54a"/>
<rect x="149.8" y="65.7" width="90.5" height="10" fill="#39b54a"/>
<rect x="240.3" y="65.7" width="10.2" height="10" fill="#f7941e"/>
<polygon points="245.40,67.40 246.29,69.78 248.82,69.89 246.84,71.47 247.52,73.91 245.40,72.51 243.28,73.91 243.96,71.47 241.98,69.89 244.51,69.78" fill="#fff" stroke="none" stroke-width="0"/>
<path d="M150 52.15 H212.5 M150 64.3 H212.5" stroke="#fff" stroke-width="0.5" stroke-dasharray="0.5 0.9" opacity="0.75"/>
<text x="152.80" y="47.90" font-size="7.7" fill="#fff" font-weight="bold" textLength="56.70" lengthAdjust="spacingAndGlyphs">PATHWAYS TO</text>
<text x="152.80" y="60.40" font-size="7.7" fill="#fff" font-weight="bold" textLength="56.00" lengthAdjust="spacingAndGlyphs">EDUCATIONAL</text>
<text x="152.80" y="73.00" font-size="7.7" fill="#fff" font-weight="bold" textLength="84.20" lengthAdjust="spacingAndGlyphs">EXCELLENCE FOR ALL</text>
<text x="139.60" y="628.70" font-size="16.8" fill="#ffffff" textLength="73.00" lengthAdjust="spacingAndGlyphs">WestEd</text>
<g fill="none" stroke="#ffffff" stroke-width="0.65" stroke-linecap="round"><circle cx="223.1" cy="623.1700000000001" r="7.9"/><g transform="translate(223.1 623.1700000000001)"><ellipse cx="0" cy="0" rx="2.84" ry="7.74" transform="rotate(38)"/><ellipse cx="0" cy="0" rx="2.84" ry="7.74" transform="rotate(-52)"/><path d="M-7.35 -2.84 Q0.79 0.79 3.32 7.11"/><path d="M-3.95 6.79 Q0.00 -0.79 7.11 -3.32"/></g></g>
<circle cx="232.47" cy="629.00" r="0.42" fill="none" stroke="#ffffff" stroke-width="0.23"/>
<text x="217.60" y="635.60" font-size="4.5" fill="#ffffff" text-anchor="end" textLength="32.20" lengthAdjust="spacingAndGlyphs">WestEd.org</text>
<text x="630.40" y="628.90" font-size="14.2" fill="#ffffff" font-style="italic" textLength="75.80" lengthAdjust="spacingAndGlyphs">learningforward</text>
<text x="630.40" y="638.60" font-size="4.6" fill="#ffffff" textLength="92.50" lengthAdjust="spacingAndGlyphs">THE PROFESSIONAL LEARNING ASSOCIATION</text>
<g fill="#ffffff"><circle cx="688.91" cy="617.51" r="0.23"/><circle cx="689.72" cy="616.37" r="0.24"/><circle cx="690.66" cy="615.29" r="0.25"/><circle cx="691.74" cy="614.29" r="0.27"/><circle cx="692.97" cy="613.39" r="0.30"/><circle cx="694.34" cy="612.61" r="0.32"/><circle cx="695.86" cy="611.97" r="0.35"/><circle cx="697.51" cy="611.51" r="0.39"/><circle cx="699.29" cy="611.26" r="0.42"/><circle cx="701.18" cy="611.26" r="0.46"/><circle cx="703.14" cy="611.54" r="0.50"/><circle cx="705.13" cy="612.15" r="0.55"/><circle cx="706.97" cy="613.35" r="0.60"/><circle cx="708.62" cy="614.92" r="0.65"/><circle cx="710.00" cy="616.81" r="0.71"/><circle cx="711.03" cy="619.01" r="0.78"/><circle cx="711.60" cy="621.45" r="0.85"/><circle cx="711.63" cy="624.04" r="0.93"/><circle cx="711.05" cy="626.64" r="1.01"/><circle cx="709.80" cy="629.08" r="1.11"/><circle cx="688.90" cy="617.58" r="0.23"/><circle cx="689.70" cy="616.43" r="0.24"/><circle cx="690.62" cy="615.34" r="0.25"/><circle cx="691.66" cy="614.30" r="0.27"/><circle cx="692.82" cy="613.34" r="0.29"/><circle cx="694.11" cy="612.47" r="0.31"/><circle cx="695.54" cy="611.69" r="0.34"/><circle cx="697.09" cy="611.05" r="0.37"/><circle cx="698.77" cy="610.55" r="0.40"/><circle cx="700.57" cy="610.23" r="0.43"/><circle cx="702.48" cy="610.12" r="0.47"/><circle cx="704.48" cy="610.25" r="0.51"/><circle cx="706.55" cy="610.66" r="0.55"/><circle cx="708.55" cy="611.59" r="0.60"/><circle cx="710.46" cy="612.83" r="0.65"/><circle cx="712.23" cy="614.41" r="0.70"/><circle cx="713.79" cy="616.32" r="0.76"/><circle cx="715.05" cy="618.53" r="0.83"/><circle cx="715.93" cy="621.03" r="0.90"/><circle cx="716.34" cy="623.75" r="0.97"/><circle cx="716.19" cy="626.59" r="1.06"/><circle cx="688.91" cy="617.62" r="0.23"/><circle cx="689.71" cy="616.47" r="0.24"/><circle cx="690.61" cy="615.37" r="0.25"/><circle cx="691.62" cy="614.31" r="0.27"/><circle cx="692.74" cy="613.31" r="0.29"/><circle cx="693.98" cy="612.37" r="0.31"/><circle cx="695.34" cy="611.51" r="0.33"/><circle cx="696.82" cy="610.74" r="0.36"/><circle cx="698.42" cy="610.09" r="0.39"/><circle cx="700.15" cy="609.57" r="0.42"/><circle cx="702.00" cy="609.21" r="0.45"/><circle cx="703.96" cy="609.03" r="0.49"/><circle cx="706.01" cy="609.07" r="0.53"/><circle cx="708.13" cy="609.44" r="0.57"/><circle cx="710.26" cy="610.16" r="0.62"/><circle cx="712.37" cy="611.18" r="0.67"/><circle cx="714.40" cy="612.53" r="0.72"/><circle cx="716.31" cy="614.20" r="0.78"/><circle cx="718.02" cy="616.23" r="0.84"/><circle cx="719.46" cy="618.58" r="0.91"/><circle cx="720.55" cy="621.25" r="0.99"/><circle cx="721.19" cy="624.20" r="1.07"/><circle cx="688.93" cy="617.63" r="0.23"/><circle cx="689.74" cy="616.49" r="0.24"/><circle cx="690.63" cy="615.37" r="0.25"/><circle cx="691.62" cy="614.30" r="0.27"/><circle cx="692.71" cy="613.27" r="0.29"/><circle cx="693.91" cy="612.28" r="0.31"/><circle cx="695.23" cy="611.36" r="0.33"/><circle cx="696.66" cy="610.51" r="0.36"/><circle cx="698.21" cy="609.75" r="0.39"/><circle cx="699.88" cy="609.09" r="0.42"/><circle cx="701.68" cy="608.55" r="0.45"/><circle cx="703.61" cy="608.17" r="0.49"/><circle cx="705.64" cy="607.95" r="0.53"/><circle cx="707.79" cy="607.98" r="0.57"/><circle cx="710.01" cy="608.29" r="0.61"/><circle cx="712.29" cy="608.87" r="0.66"/><circle cx="714.59" cy="609.74" r="0.72"/><circle cx="716.87" cy="610.94" r="0.77"/><circle cx="719.09" cy="612.48" r="0.84"/><circle cx="721.18" cy="614.39" r="0.90"/><circle cx="723.07" cy="616.69" r="0.98"/><circle cx="724.68" cy="619.38" r="1.06"/><circle cx="688.98" cy="617.62" r="0.23"/><circle cx="689.79" cy="616.47" r="0.24"/><circle cx="690.67" cy="615.35" r="0.25"/><circle cx="691.65" cy="614.27" r="0.27"/><circle cx="692.73" cy="613.21" r="0.29"/><circle cx="693.91" cy="612.19" r="0.31"/><circle cx="695.19" cy="611.22" r="0.34"/><circle cx="696.59" cy="610.30" r="0.36"/><circle cx="698.11" cy="609.45" r="0.39"/><circle cx="699.76" cy="608.69" r="0.42"/><circle cx="701.54" cy="608.02" r="0.46"/><circle cx="703.45" cy="607.48" r="0.50"/><circle cx="705.49" cy="607.08" r="0.54"/><circle cx="707.66" cy="606.85" r="0.58"/><circle cx="709.95" cy="606.82" r="0.63"/><circle cx="712.35" cy="607.03" r="0.68"/><circle cx="714.85" cy="607.51" r="0.74"/><circle cx="717.42" cy="608.29" r="0.80"/><circle cx="720.02" cy="609.43" r="0.87"/><circle cx="722.61" cy="610.95" r="0.94"/><circle cx="725.12" cy="612.91" r="1.02"/><circle cx="727.48" cy="615.33" r="1.10"/></g>
<text x="360.90" y="1003.60" font-size="27.6" fill="#1b5c9e" textLength="120.80" lengthAdjust="spacingAndGlyphs">WestEd</text>
<g fill="none" stroke="#1b5c9e" stroke-width="1.05" stroke-linecap="round"><circle cx="497.2" cy="994.57" r="12.9"/><g transform="translate(497.2 994.57)"><ellipse cx="0" cy="0" rx="4.64" ry="12.64" transform="rotate(38)"/><ellipse cx="0" cy="0" rx="4.64" ry="12.64" transform="rotate(-52)"/><path d="M-12.00 -4.64 Q1.29 1.29 5.42 11.61"/><path d="M-6.45 11.09 Q0.00 -1.29 11.61 -5.42"/></g></g>
<circle cx="512.50" cy="1003.90" r="0.68" fill="none" stroke="#1b5c9e" stroke-width="0.37"/>
<text x="487.60" y="1014.90" font-size="7.5" fill="#1b5c9e" text-anchor="end" textLength="52.10" lengthAdjust="spacingAndGlyphs">WestEd.org</text>
<text x="646.00" y="998.50" font-size="25.0" fill="#1b5c9e" font-style="italic" textLength="125.70" lengthAdjust="spacingAndGlyphs">learningforward</text>
<text x="646.00" y="1015.30" font-size="8.3" fill="#1b5c9e" textLength="150.40" lengthAdjust="spacingAndGlyphs">THE PROFESSIONAL LEARNING ASSOCIATION</text>
<g fill="#1b5c9e"><circle cx="743.03" cy="979.62" r="0.38"/><circle cx="744.37" cy="977.71" r="0.39"/><circle cx="745.93" cy="975.93" r="0.42"/><circle cx="747.72" cy="974.27" r="0.46"/><circle cx="749.75" cy="972.78" r="0.49"/><circle cx="752.03" cy="971.48" r="0.54"/><circle cx="754.55" cy="970.43" r="0.59"/><circle cx="757.29" cy="969.66" r="0.64"/><circle cx="760.24" cy="969.25" r="0.70"/><circle cx="763.37" cy="969.25" r="0.76"/><circle cx="766.62" cy="969.71" r="0.83"/><circle cx="769.93" cy="970.72" r="0.91"/><circle cx="772.97" cy="972.72" r="0.99"/><circle cx="775.71" cy="975.31" r="1.08"/><circle cx="778.00" cy="978.46" r="1.18"/><circle cx="779.71" cy="982.10" r="1.29"/><circle cx="780.66" cy="986.15" r="1.41"/><circle cx="780.71" cy="990.44" r="1.54"/><circle cx="779.74" cy="994.75" r="1.68"/><circle cx="777.68" cy="998.80" r="1.84"/><circle cx="743.01" cy="979.73" r="0.38"/><circle cx="744.34" cy="977.83" r="0.39"/><circle cx="745.86" cy="976.01" r="0.42"/><circle cx="747.58" cy="974.29" r="0.45"/><circle cx="749.51" cy="972.70" r="0.48"/><circle cx="751.65" cy="971.25" r="0.52"/><circle cx="754.02" cy="969.97" r="0.56"/><circle cx="756.59" cy="968.90" r="0.61"/><circle cx="759.38" cy="968.07" r="0.66"/><circle cx="762.37" cy="967.55" r="0.72"/><circle cx="765.54" cy="967.36" r="0.78"/><circle cx="768.85" cy="967.57" r="0.84"/><circle cx="772.27" cy="968.25" r="0.91"/><circle cx="775.59" cy="969.79" r="0.99"/><circle cx="778.77" cy="971.86" r="1.07"/><circle cx="781.71" cy="974.47" r="1.16"/><circle cx="784.28" cy="977.63" r="1.26"/><circle cx="786.37" cy="981.31" r="1.37"/><circle cx="787.83" cy="985.45" r="1.49"/><circle cx="788.51" cy="989.96" r="1.61"/><circle cx="788.27" cy="994.67" r="1.75"/><circle cx="743.02" cy="979.80" r="0.38"/><circle cx="744.35" cy="977.89" r="0.39"/><circle cx="745.85" cy="976.06" r="0.42"/><circle cx="747.52" cy="974.31" r="0.44"/><circle cx="749.38" cy="972.64" r="0.48"/><circle cx="751.43" cy="971.09" r="0.51"/><circle cx="753.68" cy="969.66" r="0.55"/><circle cx="756.14" cy="968.39" r="0.60"/><circle cx="758.80" cy="967.31" r="0.64"/><circle cx="761.67" cy="966.45" r="0.69"/><circle cx="764.73" cy="965.85" r="0.75"/><circle cx="767.98" cy="965.55" r="0.81"/><circle cx="771.39" cy="965.61" r="0.88"/><circle cx="774.91" cy="966.22" r="0.95"/><circle cx="778.44" cy="967.42" r="1.03"/><circle cx="781.93" cy="969.12" r="1.11"/><circle cx="785.30" cy="971.35" r="1.20"/><circle cx="788.46" cy="974.13" r="1.30"/><circle cx="791.30" cy="977.48" r="1.40"/><circle cx="793.69" cy="981.39" r="1.52"/><circle cx="795.49" cy="985.82" r="1.64"/><circle cx="796.55" cy="990.70" r="1.77"/><circle cx="743.06" cy="979.82" r="0.38"/><circle cx="744.40" cy="977.91" r="0.39"/><circle cx="745.88" cy="976.07" r="0.42"/><circle cx="747.52" cy="974.29" r="0.44"/><circle cx="749.33" cy="972.57" r="0.47"/><circle cx="751.32" cy="970.94" r="0.51"/><circle cx="753.50" cy="969.41" r="0.55"/><circle cx="755.87" cy="968.00" r="0.59"/><circle cx="758.45" cy="966.74" r="0.64"/><circle cx="761.23" cy="965.65" r="0.69"/><circle cx="764.21" cy="964.76" r="0.75"/><circle cx="767.40" cy="964.12" r="0.81"/><circle cx="770.78" cy="963.76" r="0.87"/><circle cx="774.34" cy="963.80" r="0.94"/><circle cx="778.03" cy="964.33" r="1.02"/><circle cx="781.80" cy="965.28" r="1.10"/><circle cx="785.61" cy="966.73" r="1.19"/><circle cx="789.39" cy="968.71" r="1.28"/><circle cx="793.07" cy="971.27" r="1.39"/><circle cx="796.54" cy="974.44" r="1.50"/><circle cx="799.68" cy="978.26" r="1.62"/><circle cx="802.34" cy="982.71" r="1.75"/><circle cx="743.14" cy="979.79" r="0.38"/><circle cx="744.48" cy="977.89" r="0.39"/><circle cx="745.95" cy="976.04" r="0.42"/><circle cx="747.58" cy="974.23" r="0.45"/><circle cx="749.36" cy="972.48" r="0.48"/><circle cx="751.31" cy="970.79" r="0.52"/><circle cx="753.44" cy="969.18" r="0.56"/><circle cx="755.77" cy="967.66" r="0.60"/><circle cx="758.29" cy="966.25" r="0.65"/><circle cx="761.02" cy="964.98" r="0.70"/><circle cx="763.97" cy="963.88" r="0.76"/><circle cx="767.13" cy="962.98" r="0.82"/><circle cx="770.52" cy="962.32" r="0.89"/><circle cx="774.12" cy="961.94" r="0.97"/><circle cx="777.92" cy="961.89" r="1.05"/><circle cx="781.90" cy="962.23" r="1.13"/><circle cx="786.05" cy="963.02" r="1.23"/><circle cx="790.31" cy="964.33" r="1.33"/><circle cx="794.62" cy="966.21" r="1.44"/><circle cx="798.91" cy="968.74" r="1.56"/><circle cx="803.08" cy="971.98" r="1.69"/><circle cx="807.00" cy="975.99" r="1.83"/></g>
<rect x="622" y="174" width="267" height="345.5" fill="#000" opacity="0.42" filter="url(#shB)"/>
<rect x="625.5" y="177" width="266.5" height="345" fill="#ffffff"/>
<rect x="640.9" y="192.6" width="235.4" height="310" fill="#fff" stroke="#9cc3e6" stroke-width="0.5"/>
<linearGradient id="gDH" x1="0" y1="0" x2="1" y2="0"><stop offset="0" stop-color="#0465aa"/><stop offset="0.7" stop-color="#0567ad"/><stop offset="1" stop-color="#0b6db3"/></linearGradient>
<rect x="640.8" y="192.5" width="235.5" height="35.8" fill="url(#gDH)"/>
<clipPath id="clipDH"><rect x="640.8" y="192.5" width="235.5" height="35.8"/></clipPath>
<g clip-path="url(#clipDH)"><ellipse cx="852" cy="211" rx="25" ry="19" fill="#1a76bf" opacity="0.55"/><ellipse cx="866" cy="203" rx="9" ry="12" fill="#1f7cc4" opacity="0.5"/><path d="M826.5 220 Q838 210 848 213 Q842 226 826.5 220Z" fill="#2a86cb" opacity="0.55"/><circle cx="855.4" cy="197.9" r="5.4" fill="#0f7ac8"/><circle cx="856.4" cy="214.7" r="5.4" fill="#0f7ac8"/><circle cx="848.5" cy="219.7" r="3.5" fill="#085da4"/><circle cx="847" cy="203" r="2.6" fill="#1277c3"/><g fill="#0a5fa8"><circle cx="860.4" cy="197.4" r="1.2"/><circle cx="860.4" cy="200.8" r="1.2"/><circle cx="860.4" cy="213.7" r="1.2"/><circle cx="860.4" cy="217.2" r="1.2"/></g></g>
<text x="649.30" y="200.90" font-size="5.2" fill="#fff" font-weight="bold" textLength="30.00" lengthAdjust="spacingAndGlyphs">ACTIVITY #4</text>
<text x="649.00" y="212.10" font-size="11.6" fill="#fff" font-weight="bold" textLength="173.50" lengthAdjust="spacingAndGlyphs">Standards for Professional Learning</text>
<rect x="668.8" y="232.3" width="170.1" height="72.1" fill="#feefde"/>
<rect x="668.8" y="305.9" width="170.1" height="94.4" fill="#f2f8ee"/>
<rect x="668.8" y="401.8" width="170.1" height="93.5" fill="#e8f0fa"/>
<rect x="840.0" y="232.3" width="10.0" height="72.10" fill="#f59c2c"/>
<text transform="translate(846.4 268.35) rotate(90)" font-size="2.9" font-weight="bold" fill="#fff" fill-opacity="0.9" text-anchor="middle" textLength="62" lengthAdjust="spacingAndGlyphs">RIGOROUS CONTENT FOR EACH LEARNER</text>
<rect x="840.0" y="305.9" width="10.0" height="94.40" fill="#52b648"/>
<text transform="translate(846.4 353.1) rotate(90)" font-size="2.9" font-weight="bold" fill="#fff" fill-opacity="0.9" text-anchor="middle" textLength="50" lengthAdjust="spacingAndGlyphs">TRANSFORMATIONAL PROCESSES</text>
<rect x="840.0" y="401.8" width="10.0" height="93.50" fill="#0a80c4"/>
<text transform="translate(846.4 448.55) rotate(90)" font-size="2.9" font-weight="bold" fill="#fff" fill-opacity="0.9" text-anchor="middle" textLength="42" lengthAdjust="spacingAndGlyphs">CONDITIONS FOR SUCCESS</text>
<text x="675.30" y="242.90" font-size="3.55" fill="#111" font-style="italic" textLength="150.50" lengthAdjust="spacingAndGlyphs" stroke="#111" stroke-width="0.08">Professional learning results in equitable and excellent outcomes for all students when educators ...</text>
<text x="675.30" y="250.20" font-size="3.75" fill="#000" font-weight="bold" letter-spacing="0.05" stroke="#000" stroke-width="0.12">EQUITY PRACTICES</text>
<text x="675.30" y="255.60" font-size="3.72" fill="#000" textLength="154.35" lengthAdjust="spacingAndGlyphs" stroke="#000" stroke-width="0.1">... understand their students’ historical, cultural, and societal contexts, embrace student assets</text>
<text x="675.30" y="260.90" font-size="3.72" fill="#000" textLength="137.03" lengthAdjust="spacingAndGlyphs" stroke="#000" stroke-width="0.1">through instruction, and foster relationships with students, families, and communities.</text>
<text x="675.30" y="268.60" font-size="3.75" fill="#000" font-weight="bold" letter-spacing="0.05" stroke="#000" stroke-width="0.12">CURRICULUM, ASSESSMENT, AND INSTRUCTION</text>
<text x="675.30" y="274.00" font-size="3.72" fill="#000" textLength="149.62" lengthAdjust="spacingAndGlyphs" stroke="#000" stroke-width="0.1">... prioritize high-quality curriculum and instructional materials for students, assess student</text>
<text x="675.30" y="279.30" font-size="3.72" fill="#000" textLength="110.25" lengthAdjust="spacingAndGlyphs" stroke="#000" stroke-width="0.1">learning, and understand curriculum and implement through instruction.</text>
<text x="675.30" y="287.00" font-size="3.75" fill="#000" font-weight="bold" letter-spacing="0.05" stroke="#000" stroke-width="0.12">PROFESSIONAL EXPERTISE</text>
<text x="675.30" y="292.40" font-size="3.72" fill="#000" textLength="149.62" lengthAdjust="spacingAndGlyphs" stroke="#000" stroke-width="0.1">... apply standards and research to their work, develop the expertise essential to their roles,</text>
<text x="675.30" y="297.80" font-size="3.72" fill="#000" textLength="89.77" lengthAdjust="spacingAndGlyphs" stroke="#000" stroke-width="0.1">and prioritize coherence and alignment in their learning.</text>
<text x="675.30" y="315.90" font-size="3.55" fill="#111" font-style="italic" textLength="150.50" lengthAdjust="spacingAndGlyphs" stroke="#111" stroke-width="0.08">Professional learning results in equitable and excellent outcomes for all students when educators ...</text>
<text x="675.30" y="322.80" font-size="3.75" fill="#000" font-weight="bold" letter-spacing="0.05" stroke="#000" stroke-width="0.12">EQUITY DRIVERS</text>
<text x="675.30" y="328.40" font-size="3.72" fill="#000" textLength="149.62" lengthAdjust="spacingAndGlyphs" stroke="#000" stroke-width="0.1">... prioritize equity in professional learning practices, identify and address their own biases</text>
<text x="675.30" y="333.70" font-size="3.72" fill="#000" textLength="83.47" lengthAdjust="spacingAndGlyphs" stroke="#000" stroke-width="0.1">and beliefs, and collaborate with diverse colleagues.</text>
<text x="675.30" y="341.20" font-size="3.75" fill="#000" font-weight="bold" letter-spacing="0.05" stroke="#000" stroke-width="0.12">EVIDENCE</text>
<text x="675.30" y="346.60" font-size="3.72" fill="#000" textLength="144.90" lengthAdjust="spacingAndGlyphs" stroke="#000" stroke-width="0.1">... create expectations and build capacity for use of evidence, leverage evidence, data, and</text>
<text x="675.30" y="351.80" font-size="3.72" fill="#000" textLength="143.32" lengthAdjust="spacingAndGlyphs" stroke="#000" stroke-width="0.1">research from multiple sources to plan educator learning, and measure and report the impact</text>
<text x="675.30" y="357.00" font-size="3.72" fill="#000" textLength="39.38" lengthAdjust="spacingAndGlyphs" stroke="#000" stroke-width="0.1">of professional learning.</text>
<text x="675.30" y="364.70" font-size="3.75" fill="#000" font-weight="bold" letter-spacing="0.05" stroke="#000" stroke-width="0.12">LEARNING DESIGNS</text>
<text x="675.30" y="370.10" font-size="3.72" fill="#000" textLength="148.05" lengthAdjust="spacingAndGlyphs" stroke="#000" stroke-width="0.1">... set relevant and contextualized learning goals, ground their work in research and theories</text>
<text x="675.30" y="375.30" font-size="3.72" fill="#000" textLength="97.65" lengthAdjust="spacingAndGlyphs" stroke="#000" stroke-width="0.1">about learning, and implement evidence-based learning designs.</text>
<text x="675.30" y="383.50" font-size="3.75" fill="#000" font-weight="bold" letter-spacing="0.05" stroke="#000" stroke-width="0.12">IMPLEMENTATION</text>
<text x="675.30" y="388.90" font-size="3.72" fill="#000" textLength="133.88" lengthAdjust="spacingAndGlyphs" stroke="#000" stroke-width="0.1">... understand and apply research on change management, engage in feedback processes,</text>
<text x="675.30" y="394.20" font-size="3.72" fill="#000" textLength="75.60" lengthAdjust="spacingAndGlyphs" stroke="#000" stroke-width="0.1">and implement and sustain professional learning.</text>
<text x="675.30" y="410.60" font-size="3.55" fill="#111" font-style="italic" textLength="150.50" lengthAdjust="spacingAndGlyphs" stroke="#111" stroke-width="0.08">Professional learning results in equitable and excellent outcomes for all students when educators ...</text>
<text x="675.30" y="417.40" font-size="3.75" fill="#000" font-weight="bold" letter-spacing="0.05" stroke="#000" stroke-width="0.12">EQUITY FOUNDATIONS</text>
<text x="675.30" y="422.90" font-size="3.72" fill="#000" textLength="151.20" lengthAdjust="spacingAndGlyphs" stroke="#000" stroke-width="0.1">... establish expectations for equity, create structures to ensure equitable access to learning,</text>
<text x="675.30" y="428.20" font-size="3.72" fill="#000" textLength="74.02" lengthAdjust="spacingAndGlyphs" stroke="#000" stroke-width="0.1">and sustain a culture of support for all staff.</text>
<text x="675.30" y="435.90" font-size="3.75" fill="#000" font-weight="bold" letter-spacing="0.05" stroke="#000" stroke-width="0.12">CULTURE OF COLLABORATIVE INQUIRY</text>
<text x="675.30" y="441.30" font-size="3.72" fill="#000" textLength="138.60" lengthAdjust="spacingAndGlyphs" stroke="#000" stroke-width="0.1">... engage in continuous improvement, build collaboration skills and capacity, and share</text>
<text x="675.30" y="446.60" font-size="3.72" fill="#000" textLength="86.62" lengthAdjust="spacingAndGlyphs" stroke="#000" stroke-width="0.1">responsibility for improving learning for all students.</text>
<text x="675.30" y="454.70" font-size="3.75" fill="#000" font-weight="bold" letter-spacing="0.05" stroke="#000" stroke-width="0.12">LEADERSHIP</text>
<text x="675.30" y="460.10" font-size="3.72" fill="#000" textLength="155.92" lengthAdjust="spacingAndGlyphs" stroke="#000" stroke-width="0.1">... establish a compelling and inclusive vision for professional learning, sustain coherent support</text>
<text x="675.30" y="465.40" font-size="3.72" fill="#000" textLength="144.90" lengthAdjust="spacingAndGlyphs" stroke="#000" stroke-width="0.1">to build educator capacity, and advocate for professional learning by sharing the importance</text>
<text x="675.30" y="470.70" font-size="3.72" fill="#000" textLength="75.60" lengthAdjust="spacingAndGlyphs" stroke="#000" stroke-width="0.1">and evidence of impact of professional learning.</text>
<text x="675.30" y="478.10" font-size="3.75" fill="#000" font-weight="bold" letter-spacing="0.05" stroke="#000" stroke-width="0.12">RESOURCES</text>
<text x="675.30" y="483.60" font-size="3.72" fill="#000" textLength="151.20" lengthAdjust="spacingAndGlyphs" stroke="#000" stroke-width="0.1">... allocate resources for professional learning, prioritize equity in their resource decisions,</text>
<text x="675.30" y="488.90" font-size="3.72" fill="#000" textLength="86.62" lengthAdjust="spacingAndGlyphs" stroke="#000" stroke-width="0.1">and monitor the use and impact of resource investments.</text>
<text x="675.30" y="499.70" font-size="3.1" fill="#8a8f98" textLength="111.70" lengthAdjust="spacingAndGlyphs">Learning Forward (2022). Standards for Professional Learning. Page 15. Author.</text>
<text x="877.20" y="508.80" font-size="2.9" fill="#9a9a9a" font-style="italic" text-anchor="end" textLength="114.50" lengthAdjust="spacingAndGlyphs">Pathways to Educational Excellence for All © 2024 WestEd and Learning Forward</text>
<defs>
<linearGradient id="gMH" x1="0" y1="0" x2="1" y2="0"><stop offset="0" stop-color="#38a748"/><stop offset="0.55" stop-color="#21903f"/><stop offset="1" stop-color="#0d7a35"/></linearGradient>
<linearGradient id="gFH" x1="0" y1="0" x2="1" y2="0"><stop offset="0" stop-color="#3fb04a"/><stop offset="0.6" stop-color="#2b9c43"/><stop offset="1" stop-color="#14853a"/></linearGradient>
<linearGradient id="gBandO" x1="0" y1="0" x2="1" y2="0"><stop offset="0" stop-color="#f7941e"/><stop offset="0.08" stop-color="#f3921f"/><stop offset="0.4" stop-color="#df8721"/><stop offset="0.8" stop-color="#c97d22"/><stop offset="0.81" stop-color="#ee9022"/><stop offset="1" stop-color="#f6941f"/></linearGradient>
<linearGradient id="gBandB" x1="0" y1="0" x2="1" y2="0"><stop offset="0" stop-color="#0a76c2"/><stop offset="0.45" stop-color="#0a69b4"/><stop offset="0.8" stop-color="#095ea8"/><stop offset="0.815" stop-color="#0a6fbc"/><stop offset="1" stop-color="#0a76c2"/></linearGradient>
<linearGradient id="gBandP" x1="0" y1="0" x2="1" y2="0"><stop offset="0" stop-color="#9063ad"/><stop offset="0.45" stop-color="#8456a2"/><stop offset="0.8" stop-color="#6a3d87"/><stop offset="0.82" stop-color="#8a5ca8"/><stop offset="1" stop-color="#8f63ad"/></linearGradient>
<linearGradient id="gBandP2" x1="0" y1="0" x2="1" y2="0"><stop offset="0" stop-color="#9267af"/><stop offset="0.45" stop-color="#8357a1"/><stop offset="0.79" stop-color="#623781"/><stop offset="0.81" stop-color="#7d5199"/><stop offset="1" stop-color="#8f63ad"/></linearGradient>
<linearGradient id="gLeaf" x1="0" y1="1" x2="1" y2="0"><stop offset="0" stop-color="#4a2563"/><stop offset="0.45" stop-color="#5f357c"/><stop offset="1" stop-color="#8558a3"/></linearGradient>
<linearGradient id="gGoalL" x1="0" y1="0" x2="1" y2="0"><stop offset="0" stop-color="#522c71" stop-opacity="1"/><stop offset="0.45" stop-color="#5b337a" stop-opacity="0.88"/><stop offset="0.82" stop-color="#7a4f98" stop-opacity="0"/></linearGradient>
<linearGradient id="gGoalT" x1="0" y1="1" x2="0" y2="0"><stop offset="0" stop-color="#8f63ad" stop-opacity="0"/><stop offset="1" stop-color="#8f63ad" stop-opacity="0.55"/></linearGradient>
</defs>
<path d="M24.7 701.4 Q24.7 696.4 29.7 696.4 L82.2 696.4 Q87.2 696.4 87.2 701.4 L87.2 711.6 L207.9 711.6 Q212.9 711.6 212.9 716.6 L212.9 831.9 Q212.9 836.9 207.9 836.9 L29.7 836.9 Q24.7 836.9 24.7 831.9 Z" transform="translate(-3 -3)" fill="#000" opacity="0.5" filter="url(#shC)"/>
<path d="M24.7 701.4 Q24.7 696.4 29.7 696.4 L82.2 696.4 Q87.2 696.4 87.2 701.4 L87.2 711.6 L207.9 711.6 Q212.9 711.6 212.9 716.6 L212.9 831.9 Q212.9 836.9 207.9 836.9 L29.7 836.9 Q24.7 836.9 24.7 831.9 Z" fill="#0b7a34"/>
<clipPath id="clipMon"><path d="M24.7 701.4 Q24.7 696.4 29.7 696.4 L82.2 696.4 Q87.2 696.4 87.2 701.4 L87.2 711.6 L207.9 711.6 Q212.9 711.6 212.9 716.6 L212.9 831.9 Q212.9 836.9 207.9 836.9 L29.7 836.9 Q24.7 836.9 24.7 831.9 Z"/></clipPath>
<g clip-path="url(#clipMon)"><rect x="24.7" y="696.4" width="188.20000000000002" height="45.60000000000002" fill="url(#gMH)"/></g>
<text x="36.00" y="707.60" font-size="3.0" fill="#fff" font-weight="bold" textLength="26.00" lengthAdjust="spacingAndGlyphs">MONITOR CARD</text>
<text x="63.40" y="708.40" font-size="10.4" fill="#fff" font-weight="bold" textLength="11.20" lengthAdjust="spacingAndGlyphs">10</text>
<text x="36.00" y="723.20" font-size="4.5" fill="#fff" textLength="28.00" lengthAdjust="spacingAndGlyphs" stroke="#fff" stroke-width="0.14">ACTIVITY #10:</text>
<text x="65.60" y="723.20" font-size="6.3" fill="#fff" font-weight="bold" textLength="124.50" lengthAdjust="spacingAndGlyphs">District Professional Learning Leadership</text>
<text x="36.00" y="730.30" font-size="6.3" fill="#fff" font-weight="bold" textLength="165.00" lengthAdjust="spacingAndGlyphs">Team Communicates with Key Leaders (multiple times)</text>
<text x="46.20" y="739.00" font-size="4.1" fill="#fff" textLength="12.00" lengthAdjust="spacingAndGlyphs" stroke="#fff" stroke-width="0.12">COST:</text>
<text x="59.40" y="739.00" font-size="4.1" fill="#fff" font-weight="bold" textLength="16.00" lengthAdjust="spacingAndGlyphs" stroke="#fff" stroke-width="0.1">1 token</text>
<text x="36.00" y="752.30" font-size="3.6" fill="#fff" font-weight="bold" textLength="71.00" lengthAdjust="spacingAndGlyphs">Has the team successfully done Activity #4?</text>
<circle cx="41.3" cy="758.8" r="0.7" fill="#5fc35a"/>
<text x="46.30" y="760.00" font-size="3.5" fill="#fff" font-weight="bold" textLength="24.90" lengthAdjust="spacingAndGlyphs">If no, Card 10A</text>
<circle cx="41.3" cy="765.4" r="0.7" fill="#5fc35a"/>
<text x="46.30" y="766.60" font-size="3.5" fill="#fff" font-weight="bold" textLength="18.26" lengthAdjust="spacingAndGlyphs">If yes, and</text>
<circle cx="53.0" cy="772.0" r="0.7" fill="#5fc35a"/>
<text x="55.80" y="773.20" font-size="3.5" fill="#fff" font-weight="bold" textLength="39.84" lengthAdjust="spacingAndGlyphs">First time, Card 10B and</text>
<circle cx="64.8" cy="778.5999999999999" r="0.7" fill="#5fc35a"/>
<text x="67.60" y="779.80" font-size="3.5" fill="#fff" font-weight="bold" textLength="23.24" lengthAdjust="spacingAndGlyphs">3 bonus tokens</text>
<circle cx="53.0" cy="785.0" r="0.7" fill="#5fc35a"/>
<text x="55.80" y="786.20" font-size="3.5" fill="#fff" font-weight="bold" textLength="41.50" lengthAdjust="spacingAndGlyphs">Second time, Card 10C and</text>
<circle cx="64.8" cy="791.5999999999999" r="0.7" fill="#5fc35a"/>
<text x="67.60" y="792.80" font-size="3.5" fill="#fff" font-weight="bold" textLength="23.24" lengthAdjust="spacingAndGlyphs">3 bonus tokens</text>
<circle cx="53.0" cy="798.1999999999999" r="0.7" fill="#5fc35a"/>
<text x="55.80" y="799.40" font-size="3.5" fill="#fff" font-weight="bold" textLength="39.84" lengthAdjust="spacingAndGlyphs">Third time, Card 10D and</text>
<circle cx="64.8" cy="804.8" r="0.7" fill="#5fc35a"/>
<text x="67.60" y="806.00" font-size="3.5" fill="#fff" font-weight="bold" textLength="23.24" lengthAdjust="spacingAndGlyphs">3 bonus tokens</text>
<circle cx="53.0" cy="811.1999999999999" r="0.7" fill="#5fc35a"/>
<text x="55.80" y="812.40" font-size="3.5" fill="#fff" font-weight="bold" textLength="41.50" lengthAdjust="spacingAndGlyphs">Fourth time, Card 10E and</text>
<circle cx="64.8" cy="817.8" r="0.7" fill="#5fc35a"/>
<text x="67.60" y="819.00" font-size="3.5" fill="#fff" font-weight="bold" textLength="23.24" lengthAdjust="spacingAndGlyphs">3 bonus tokens</text>
<text x="201.50" y="831.60" font-size="2.6" fill="#e8f4e8" font-weight="bold" font-style="italic" text-anchor="end" textLength="86.50" lengthAdjust="spacingAndGlyphs">Pathways to Educational Excellence for All © 2024 WestEd and Learning Forward</text>
<rect x="21.7" y="856.0" width="188.20000000000002" height="125.70000000000005" rx="6" fill="#000" opacity="0.5" filter="url(#shC)"/>
<rect x="24.7" y="859.0" width="188.20000000000002" height="125.70000000000005" rx="6" fill="#fff"/>
<clipPath id="clipFb"><rect x="24.7" y="859.0" width="188.20000000000002" height="125.70000000000005" rx="6"/></clipPath>
<g clip-path="url(#clipFb)"><rect x="24.7" y="859.0" width="188.20000000000002" height="27.8" fill="url(#gFH)"/></g>
<text x="36.00" y="869.00" font-size="3.0" fill="#fff" font-weight="bold" textLength="26.00" lengthAdjust="spacingAndGlyphs">FEEDBACK CARD</text>
<text x="36.20" y="882.60" font-size="13.4" fill="#fff" font-weight="bold" textLength="8.80" lengthAdjust="spacingAndGlyphs">4</text>
<text x="69.70" y="875.50" font-size="6.9" fill="#fff" font-weight="bold" textLength="116.70" lengthAdjust="spacingAndGlyphs">Establish District Professional Learning</text>
<text x="69.70" y="882.70" font-size="6.9" fill="#fff" font-weight="bold" textLength="50.60" lengthAdjust="spacingAndGlyphs">Leadership Team</text>
<text x="36.00" y="893.00" font-size="3.75" fill="#111" textLength="158.00" lengthAdjust="spacingAndGlyphs" stroke="#111" stroke-width="0.09">The Chief Academic Officer (CAO) appoints a team of people with varying perspectives and roles,</text>
<text x="36.00" y="898.31" font-size="3.75" fill="#111" textLength="162.50" lengthAdjust="spacingAndGlyphs" stroke="#111" stroke-width="0.09">including district leaders, principals, instructional coaches, teachers, and an external partner who</text>
<text x="36.00" y="903.62" font-size="3.75" fill="#111" textLength="161.50" lengthAdjust="spacingAndGlyphs" stroke="#111" stroke-width="0.09">often works with the district. The CAO meets with the team to communicate the team’s authority to</text>
<text x="36.00" y="908.93" font-size="3.75" fill="#111" textLength="160.50" lengthAdjust="spacingAndGlyphs" stroke="#111" stroke-width="0.09">make decisions, guide policy, and allocate resources. She establishes the team’s purpose and goals</text>
<text x="36.00" y="914.24" font-size="3.75" fill="#111" textLength="163.00" lengthAdjust="spacingAndGlyphs" stroke="#111" stroke-width="0.09">and expresses her interest in working with the team to monitor progress. As an initial step, the team</text>
<text x="36.00" y="919.55" font-size="3.75" fill="#111" textLength="159.00" lengthAdjust="spacingAndGlyphs" stroke="#111" stroke-width="0.09">uses the results from the district review to identify strengths and needs. They engage in a formal</text>
<text x="36.00" y="924.86" font-size="3.75" fill="#111" textLength="158.00" lengthAdjust="spacingAndGlyphs" stroke="#111" stroke-width="0.09">study of the Standards for Professional Learning to increase their knowledge, and they identify the</text>
<text x="36.00" y="930.17" font-size="3.75" fill="#111" textLength="113.50" lengthAdjust="spacingAndGlyphs" stroke="#111" stroke-width="0.09">need to advocate within the system for the adoption of the Standards.</text>
<circle cx="41.6" cy="936.1999999999999" r="0.8" fill="#4db748"/>
<text x="46.50" y="937.40" font-size="3.7" fill="#111" textLength="68.50" lengthAdjust="spacingAndGlyphs" stroke="#111" stroke-width="0.09">Get the Standards for Professional Learning</text>
<circle cx="41.6" cy="942.6999999999999" r="0.8" fill="#4db748"/>
<text x="46.50" y="943.90" font-size="3.7" fill="#111" textLength="57.50" lengthAdjust="spacingAndGlyphs" stroke="#111" stroke-width="0.09">Get the Pause and Reflect: Activity #4</text>
<circle cx="41.6" cy="949.5" r="0.8" fill="#4db748"/>
<text x="46.50" y="950.70" font-size="3.7" fill="#111" textLength="115.00" lengthAdjust="spacingAndGlyphs" stroke="#111" stroke-width="0.09">Gain 1 Rigorous Content for Each Learner cube (Professional Expertise)</text>
<circle cx="41.6" cy="955.9" r="0.8" fill="#4db748"/>
<text x="46.50" y="957.10" font-size="3.7" fill="#111" textLength="82.00" lengthAdjust="spacingAndGlyphs" stroke="#111" stroke-width="0.09">Gain 1 Transformational Processes cube (Evidence)</text>
<circle cx="41.6" cy="962.5999999999999" r="0.8" fill="#4db748"/>
<text x="46.50" y="963.80" font-size="3.7" fill="#111" textLength="123.00" lengthAdjust="spacingAndGlyphs" stroke="#111" stroke-width="0.09">Gain 2 Conditions for Success cubes (Learning Foundations and Leadership)</text>
<text x="201.50" y="978.80" font-size="2.6" fill="#a0a0a0" font-style="italic" text-anchor="end" textLength="86.00" lengthAdjust="spacingAndGlyphs">Pathways to Educational Excellence for All © 2024 WestEd and Learning Forward</text>
<rect x="253.8" y="692.8" width="127.2" height="125.8" fill="#000" opacity="0.5" filter="url(#shC)"/>
<rect x="256.8" y="695.8" width="127.2" height="125.8" fill="#f7941e"/>
<clipPath id="clipBk256"><rect x="256.8" y="695.8" width="127.2" height="125.8"/></clipPath>
<g clip-path="url(#clipBk256)"><circle cx="352" cy="716" r="62" fill="none" stroke="#e98a1c" stroke-width="0.6"/><circle cx="318" cy="790" r="50" fill="none" stroke="#e98a1c" stroke-width="0.6"/><circle cx="372" cy="770" r="40" fill="none" stroke="#e98a1c" stroke-width="0.6"/>
<rect x="256.8" y="736.2" width="127.2" height="17.6" fill="url(#gBandO)"/>
</g>
<text x="356.60" y="744.00" font-size="5.6" fill="#fff" font-weight="bold" text-anchor="end" textLength="59.50" lengthAdjust="spacingAndGlyphs">CELEBRATE SUCCESS</text>
<text x="356.60" y="750.60" font-size="5.6" fill="#eaa650" font-weight="bold" text-anchor="end" textLength="25.80" lengthAdjust="spacingAndGlyphs">PHASE 1</text>
<rect x="360.4" y="737.2" width="15.2" height="15.2" fill="none" stroke="#fcd29f" stroke-width="0.5"/>
<polygon points="368.00,738.51 369.65,742.93 374.36,743.13 370.67,746.07 371.93,750.61 368.00,748.01 364.07,750.61 365.33,746.07 361.64,743.13 366.35,742.93" fill="none" stroke="#fcd29f" stroke-width="0.5"/>
<rect x="266.2" y="768.6" width="127.1" height="126.1" fill="#000" opacity="0.5" filter="url(#shC)"/>
<rect x="269.2" y="771.6" width="127.1" height="126.1" fill="#f7941e"/>
<rect x="274.7" y="777.1" width="116.1" height="115.1" fill="#fff"/>
<text x="281.10" y="789.20" font-size="7.4" fill="#f28c1d" font-weight="bold" textLength="83.40" lengthAdjust="spacingAndGlyphs">Celebrate Success Phase 1</text>
<rect x="281.1" y="791.2" width="103" height="0.45" fill="#f39a2b"/>
<text x="281.10" y="797.60" font-size="3.7" fill="#1a1a1a" textLength="98.50" lengthAdjust="spacingAndGlyphs" stroke="#1a1a1a" stroke-width="0.09">The district has a leadership team in place and is making the</text>
<text x="281.10" y="802.84" font-size="3.7" fill="#1a1a1a" textLength="94.50" lengthAdjust="spacingAndGlyphs" stroke="#1a1a1a" stroke-width="0.09">case for transforming professional learning in the Horizon</text>
<text x="281.10" y="808.08" font-size="3.7" fill="#1a1a1a" textLength="96.00" lengthAdjust="spacingAndGlyphs" stroke="#1a1a1a" stroke-width="0.09">Unified School District. Educators are excited to learn they</text>
<text x="281.10" y="813.32" font-size="3.7" fill="#1a1a1a" textLength="94.50" lengthAdjust="spacingAndGlyphs" stroke="#1a1a1a" stroke-width="0.09">will have ongoing and relevant learning opportunities tied</text>
<text x="281.10" y="818.56" font-size="3.7" fill="#1a1a1a" textLength="100.00" lengthAdjust="spacingAndGlyphs" stroke="#1a1a1a" stroke-width="0.09">directly to what they teach with a focus on using high-quality</text>
<text x="281.10" y="823.80" font-size="3.7" fill="#1a1a1a" textLength="37.00" lengthAdjust="spacingAndGlyphs" stroke="#1a1a1a" stroke-width="0.09">instructional materials.</text>
<circle cx="287.0" cy="829.6" r="0.9" fill="#f39a2b"/>
<text x="291.50" y="830.90" font-size="3.7" fill="#1a1a1a" textLength="33.50" lengthAdjust="spacingAndGlyphs">Gain 3 bonus tokens</text>
<text x="385.80" y="889.50" font-size="2.55" fill="#979797" font-style="italic" text-anchor="end" textLength="85.00" lengthAdjust="spacingAndGlyphs">Pathways to Educational Excellence for All © 2024 WestEd and Learning Forward</text>
<rect x="404.2" y="692.8" width="127.2" height="125.8" fill="#000" opacity="0.5" filter="url(#shC)"/>
<rect x="407.2" y="695.8" width="127.2" height="125.8" fill="#0a79c5"/>
<clipPath id="clipBk407"><rect x="407.2" y="695.8" width="127.2" height="125.8"/></clipPath>
<g clip-path="url(#clipBk407)"><g fill="#0a61ad" opacity="0.85"><circle cx="480.1" cy="696.2" r="10.8"/><circle cx="480.1" cy="724.7" r="14.6"/><circle cx="478.6" cy="763" r="13"/></g><g fill="#2a8bd1" opacity="0.55"><circle cx="495.5" cy="703.1" r="7"/><circle cx="494" cy="719.3" r="6.2"/><circle cx="495.5" cy="734.7" r="6"/><circle cx="496" cy="760" r="5"/></g><g fill="#2a8bd1" opacity="0.45"><circle cx="460.1" cy="703.1" r="3.4"/><circle cx="460.1" cy="711.6" r="3.4"/><circle cx="460.1" cy="720.0" r="3.4"/><circle cx="460.1" cy="728.5" r="3.4"/><circle cx="460.1" cy="736.9" r="3.4"/><circle cx="460.1" cy="745.4" r="3.4"/><circle cx="460.1" cy="753.8" r="3.4"/><circle cx="460.1" cy="762.2" r="3.4"/><circle cx="460.1" cy="770.7" r="3.4"/></g>
<rect x="407.2" y="736.2" width="127.2" height="17.6" fill="url(#gBandB)"/>
</g>
<text x="505.60" y="748.30" font-size="8.4" fill="#fff" font-weight="bold" text-anchor="end" textLength="55.40" lengthAdjust="spacingAndGlyphs">ACTIVITY CARD</text>
<rect x="510.4" y="737.6" width="15.6" height="15.6" fill="none" stroke="#a8cdea" stroke-width="0.5"/>
<polygon points="518.20,738.94 519.89,743.47 524.73,743.68 520.94,746.69 522.23,751.35 518.20,748.68 514.17,751.35 515.46,746.69 511.67,743.68 516.51,743.47" fill="none" stroke="#a8cdea" stroke-width="0.5"/>
<rect x="416.5" y="768.6" width="127.2" height="126.1" fill="#000" opacity="0.5" filter="url(#shC)"/>
<rect x="419.5" y="771.6" width="127.2" height="126.1" fill="#0b72bd"/>
<rect x="425.0" y="777.1" width="116.2" height="115.1" fill="#fff"/>
<text x="431.80" y="787.20" font-size="4.2" fill="#0b72bd" font-weight="bold" textLength="19.80" lengthAdjust="spacingAndGlyphs">ACTIVITY #4</text>
<text x="431.80" y="794.60" font-size="7.3" fill="#0b72bd" font-weight="bold" textLength="88.00" lengthAdjust="spacingAndGlyphs">Establish District Professional</text>
<text x="431.80" y="803.60" font-size="7.3" fill="#0b72bd" font-weight="bold" textLength="78.60" lengthAdjust="spacingAndGlyphs">Learning Leadership Team</text>
<rect x="431.8" y="806.2" width="103" height="0.45" fill="#3d8fd0"/>
<text x="431.80" y="811.30" font-size="3.7" fill="#1a1a1a" textLength="88.00" lengthAdjust="spacingAndGlyphs" stroke="#1a1a1a" stroke-width="0.09">The Chief Academic Officer establishes and convenes a</text>
<text x="431.80" y="816.56" font-size="3.7" fill="#1a1a1a" textLength="102.00" lengthAdjust="spacingAndGlyphs" stroke="#1a1a1a" stroke-width="0.09">district-level professional learning leadership team composed</text>
<text x="431.80" y="821.82" font-size="3.7" fill="#1a1a1a" textLength="95.00" lengthAdjust="spacingAndGlyphs" stroke="#1a1a1a" stroke-width="0.09">of educators and leaders from each school who are “champi-</text>
<text x="431.80" y="827.08" font-size="3.7" fill="#1a1a1a" textLength="97.00" lengthAdjust="spacingAndGlyphs" stroke="#1a1a1a" stroke-width="0.09">ons” for improving learning for all students. The team’s task</text>
<text x="431.80" y="832.34" font-size="3.7" fill="#1a1a1a" textLength="95.50" lengthAdjust="spacingAndGlyphs" stroke="#1a1a1a" stroke-width="0.09">is to support the development of the district’s professional</text>
<text x="431.80" y="837.60" font-size="3.7" fill="#1a1a1a" textLength="95.00" lengthAdjust="spacingAndGlyphs" stroke="#1a1a1a" stroke-width="0.09">learning goals and to plan and take action to develop and</text>
<text x="431.80" y="842.86" font-size="3.7" fill="#1a1a1a" textLength="101.00" lengthAdjust="spacingAndGlyphs" stroke="#1a1a1a" stroke-width="0.09">implement a comprehensive system for professional learning.</text>
<text x="442.00" y="851.40" font-size="4.1" fill="#0b72bd" textLength="11.80" lengthAdjust="spacingAndGlyphs" stroke="#0b72bd" stroke-width="0.1">COST:</text>
<text x="454.80" y="851.40" font-size="4.1" fill="#0b72bd" font-weight="bold" textLength="17.80" lengthAdjust="spacingAndGlyphs" stroke="#0b72bd" stroke-width="0.12">3 tokens</text>
<text x="536.20" y="889.50" font-size="2.55" fill="#979797" font-style="italic" text-anchor="end" textLength="85.00" lengthAdjust="spacingAndGlyphs">Pathways to Educational Excellence for All © 2024 WestEd and Learning Forward</text>
<rect x="555.6" y="692.8" width="125.2" height="125.8" fill="#000" opacity="0.5" filter="url(#shC)"/>
<rect x="558.6" y="695.8" width="125.2" height="125.8" fill="#8e62ab"/>
<clipPath id="clipBk558"><rect x="558.6" y="695.8" width="125.2" height="125.8"/></clipPath>
<g clip-path="url(#clipBk558)"><path d="M593 703.5 C579 716 577 752 603 776 C640 778 656 752 649 737 C640 716 616 704 593 703.5 Z" fill="url(#gLeaf)"/><circle cx="650" cy="700" r="55" fill="none" stroke="#a27fbd" stroke-width="0.5"/><circle cx="640" cy="800" r="60" fill="none" stroke="#a27fbd" stroke-width="0.5"/>
<rect x="558.6" y="736.2" width="125.2" height="17.6" fill="url(#gBandP)"/>
</g>
<text x="656.00" y="747.20" font-size="5.9" fill="#fff" font-weight="bold" text-anchor="end" textLength="48.80" lengthAdjust="spacingAndGlyphs">SCHOOL PROFILE</text>
<rect x="660.6" y="737.4" width="15.4" height="15.4" fill="none" stroke="#d9c6e6" stroke-width="0.5"/>
<polygon points="668.30,738.72 669.97,743.20 674.74,743.41 671.01,746.38 672.28,750.98 668.30,748.35 664.32,750.98 665.59,746.38 661.86,743.41 666.63,743.20" fill="none" stroke="#d9c6e6" stroke-width="0.5"/>
<rect x="566.6" y="768.2" width="126.7" height="126.6" fill="#000" opacity="0.5" filter="url(#shC)"/>
<rect x="569.6" y="771.2" width="126.7" height="126.6" fill="#8b5fa8"/>
<rect x="576.0" y="777.6" width="113.9" height="113.8" fill="#fff"/>
<text x="582.30" y="789.00" font-size="7.0" fill="#8b5fa8" font-weight="bold" textLength="62.20" lengthAdjust="spacingAndGlyphs">Dawn Middle School</text>
<rect x="582.3" y="791.5" width="102" height="0.45" fill="#a98bc1"/>
<text x="582.30" y="796.40" font-size="3.7" fill="#1a1a1a" textLength="99.00" lengthAdjust="spacingAndGlyphs" stroke="#1a1a1a" stroke-width="0.09">At Dawn Middle School, our educators are keenly aware that</text>
<text x="582.30" y="801.70" font-size="3.7" fill="#1a1a1a" textLength="96.00" lengthAdjust="spacingAndGlyphs" stroke="#1a1a1a" stroke-width="0.09">the tapestries of our students’ lives outside the classroom</text>
<text x="582.30" y="807.00" font-size="3.7" fill="#1a1a1a" textLength="98.50" lengthAdjust="spacingAndGlyphs" stroke="#1a1a1a" stroke-width="0.09">weave directly into their academic learning fabric. However,</text>
<text x="582.30" y="812.30" font-size="3.7" fill="#1a1a1a" textLength="93.00" lengthAdjust="spacingAndGlyphs" stroke="#1a1a1a" stroke-width="0.09">educators have grappled with limited support in shaping</text>
<text x="582.30" y="817.60" font-size="3.7" fill="#1a1a1a" textLength="101.00" lengthAdjust="spacingAndGlyphs" stroke="#1a1a1a" stroke-width="0.09">instruction to reflect students’ interests and experiences. The</text>
<text x="582.30" y="822.90" font-size="3.7" fill="#1a1a1a" textLength="99.50" lengthAdjust="spacingAndGlyphs" stroke="#1a1a1a" stroke-width="0.09">school boasts a strong culture of educator collaboration, but</text>
<text x="582.30" y="828.20" font-size="3.7" fill="#1a1a1a" textLength="98.00" lengthAdjust="spacingAndGlyphs" stroke="#1a1a1a" stroke-width="0.09">our principal recognizes a need for evolution. Collaboration</text>
<text x="582.30" y="833.50" font-size="3.7" fill="#1a1a1a" textLength="88.00" lengthAdjust="spacingAndGlyphs" stroke="#1a1a1a" stroke-width="0.09">practices must move beyond shared lesson plans and</text>
<text x="582.30" y="838.80" font-size="3.7" fill="#1a1a1a" textLength="98.00" lengthAdjust="spacingAndGlyphs" stroke="#1a1a1a" stroke-width="0.09">reactive problem solving toward a more dynamic exchange</text>
<text x="582.30" y="844.10" font-size="3.7" fill="#1a1a1a" textLength="97.50" lengthAdjust="spacingAndGlyphs" stroke="#1a1a1a" stroke-width="0.09">of best practices and mutual learning focused on enriching</text>
<text x="582.30" y="849.40" font-size="3.7" fill="#1a1a1a" textLength="98.50" lengthAdjust="spacingAndGlyphs" stroke="#1a1a1a" stroke-width="0.09">student learning and outcomes. The principal is spearhead-</text>
<text x="582.30" y="854.70" font-size="3.7" fill="#1a1a1a" textLength="97.00" lengthAdjust="spacingAndGlyphs" stroke="#1a1a1a" stroke-width="0.09">ing discussions with grade-level teams to ignite a transfor-</text>
<text x="582.30" y="860.00" font-size="3.7" fill="#1a1a1a" textLength="98.50" lengthAdjust="spacingAndGlyphs" stroke="#1a1a1a" stroke-width="0.09">mation in teaching practices and coordinating these efforts</text>
<text x="582.30" y="865.30" font-size="3.7" fill="#1a1a1a" textLength="101.00" lengthAdjust="spacingAndGlyphs" stroke="#1a1a1a" stroke-width="0.09">with the principal at Elevate Middle School. The consensus is</text>
<text x="582.30" y="870.60" font-size="3.7" fill="#1a1a1a" textLength="100.00" lengthAdjust="spacingAndGlyphs" stroke="#1a1a1a" stroke-width="0.09">clear: it’s time to capitalize on students’ strengths, align our</text>
<text x="582.30" y="875.90" font-size="3.7" fill="#1a1a1a" textLength="101.50" lengthAdjust="spacingAndGlyphs" stroke="#1a1a1a" stroke-width="0.09">teaching with students’ real-world experiences, and hold one</text>
<text x="582.30" y="881.20" font-size="3.7" fill="#1a1a1a" textLength="34.00" lengthAdjust="spacingAndGlyphs" stroke="#1a1a1a" stroke-width="0.09">another accountable.</text>
<text x="685.60" y="890.00" font-size="2.55" fill="#979797" font-style="italic" text-anchor="end" textLength="85.00" lengthAdjust="spacingAndGlyphs">Pathways to Educational Excellence for All © 2024 WestEd and Learning Forward</text>
<rect x="706.0" y="692.8" width="125.5" height="125.8" fill="#000" opacity="0.5" filter="url(#shC)"/>
<rect x="709.0" y="695.8" width="125.5" height="125.8" fill="#8a5ca8"/>
<clipPath id="clipBk709"><rect x="709.0" y="695.8" width="125.5" height="125.8"/></clipPath>
<g clip-path="url(#clipBk709)"><rect x="709" y="695" width="126" height="127" fill="url(#gGoalL)"/><rect x="709" y="695" width="126" height="42" fill="url(#gGoalT)"/><rect x="709" y="754" width="126" height="68" fill="url(#gGoalL)" opacity="0.85"/><path d="M764 700 C790 706 800 722 796 737 L768 737 C776 722 772 708 764 700Z" fill="#8f63ad" opacity="0.6"/><g fill="#6b4087" opacity="0.9"><circle cx="805.5" cy="707" r="5"/><circle cx="805.5" cy="718" r="5.6"/><circle cx="805.5" cy="729" r="4.6"/></g><g fill="#8a62a6" opacity="0.9"><circle cx="805.5" cy="757" r="4.6"/><circle cx="805.5" cy="766" r="3.6"/></g><circle cx="760" cy="720" r="50" fill="none" stroke="#a27fbd" stroke-width="0.5"/>
<rect x="709.0" y="736.2" width="125.5" height="17.6" fill="url(#gBandP2)"/>
</g>
<text x="806.50" y="743.80" font-size="5.6" fill="#fff" font-weight="bold" text-anchor="end" textLength="70.70" lengthAdjust="spacingAndGlyphs">DISTRICT PROFESSIONAL</text>
<text x="806.50" y="750.50" font-size="5.6" fill="#fff" font-weight="bold" text-anchor="end" textLength="50.70" lengthAdjust="spacingAndGlyphs">LEARNING GOALS</text>
<rect x="810.3" y="737.2" width="15.6" height="15.6" fill="none" stroke="#d9c6e6" stroke-width="0.5"/>
<polygon points="818.10,738.54 819.79,743.07 824.63,743.28 820.84,746.29 822.13,750.95 818.10,748.28 814.07,750.95 815.36,746.29 811.57,743.28 816.41,743.07" fill="none" stroke="#d9c6e6" stroke-width="0.5"/>
<rect x="717.5" y="768.2" width="125.5" height="126.6" fill="#000" opacity="0.5" filter="url(#shC)"/>
<rect x="720.5" y="771.2" width="125.5" height="126.6" fill="#8b5fa8"/>
<rect x="726.7" y="777.4000000000001" width="113.1" height="114.19999999999999" fill="#fff"/>
<text x="732.80" y="789.00" font-size="6.9" fill="#8b5fa8" font-weight="bold" textLength="68.50" lengthAdjust="spacingAndGlyphs">Horizon School District</text>
<text x="732.80" y="796.30" font-size="6.9" fill="#8b5fa8" font-weight="bold" textLength="82.60" lengthAdjust="spacingAndGlyphs">Professional Learning Goals</text>
<rect x="732.8" y="799.2" width="101" height="0.45" fill="#a98bc1"/>
<text x="732.80" y="805.20" font-size="3.6" fill="#8b5fa8" font-weight="bold" textLength="11.50" lengthAdjust="spacingAndGlyphs">Goal 1:</text>
<text x="745.30" y="805.20" font-size="3.6" fill="#111" textLength="88.50" lengthAdjust="spacingAndGlyphs" stroke="#111" stroke-width="0.09">Adopt and develop a plan to implement the Standards</text>
<text x="732.80" y="810.24" font-size="3.6" fill="#111" textLength="75.00" lengthAdjust="spacingAndGlyphs" stroke="#111" stroke-width="0.09">for Professional Learning within this school year.</text>
<text x="732.80" y="818.48" font-size="3.6" fill="#8b5fa8" font-weight="bold" textLength="11.50" lengthAdjust="spacingAndGlyphs">Goal 2:</text>
<text x="745.30" y="818.48" font-size="3.6" fill="#111" textLength="77.50" lengthAdjust="spacingAndGlyphs" stroke="#111" stroke-width="0.09">Provide high-quality professional learning for all</text>
<text x="732.80" y="823.52" font-size="3.6" fill="#111" textLength="96.00" lengthAdjust="spacingAndGlyphs" stroke="#111" stroke-width="0.09">educators to develop their capacity to provide high-quality</text>
<text x="732.80" y="828.56" font-size="3.6" fill="#111" textLength="91.00" lengthAdjust="spacingAndGlyphs" stroke="#111" stroke-width="0.09">learning opportunities for all students each school year.</text>
<text x="732.80" y="836.80" font-size="3.6" fill="#8b5fa8" font-weight="bold" textLength="11.50" lengthAdjust="spacingAndGlyphs">Goal 3:</text>
<text x="745.30" y="836.80" font-size="3.6" fill="#111" textLength="74.50" lengthAdjust="spacingAndGlyphs" stroke="#111" stroke-width="0.09">Adopt policies and practices to build collective</text>
<text x="732.80" y="841.84" font-size="3.6" fill="#111" textLength="100.00" lengthAdjust="spacingAndGlyphs" stroke="#111" stroke-width="0.09">responsibility among all staff for the success of all students by</text>
<text x="732.80" y="846.88" font-size="3.6" fill="#111" textLength="43.00" lengthAdjust="spacingAndGlyphs" stroke="#111" stroke-width="0.09">the end of this school year.</text>
<text x="732.80" y="855.12" font-size="3.6" fill="#8b5fa8" font-weight="bold" textLength="11.50" lengthAdjust="spacingAndGlyphs">Goal 4:</text>
<text x="745.30" y="855.12" font-size="3.6" fill="#111" textLength="86.00" lengthAdjust="spacingAndGlyphs" stroke="#111" stroke-width="0.09">Build the leadership structures and supports needed</text>
<text x="732.80" y="860.16" font-size="3.6" fill="#111" textLength="98.50" lengthAdjust="spacingAndGlyphs" stroke="#111" stroke-width="0.09">to ensure all students have access to high-quality instruction</text>
<text x="732.80" y="865.20" font-size="3.6" fill="#111" textLength="94.00" lengthAdjust="spacingAndGlyphs" stroke="#111" stroke-width="0.09">and learning environments by the end of this school year.</text>
<text x="732.80" y="873.44" font-size="3.6" fill="#8b5fa8" font-weight="bold" textLength="11.50" lengthAdjust="spacingAndGlyphs">Goal 5:</text>
<text x="745.30" y="873.44" font-size="3.6" fill="#111" textLength="89.00" lengthAdjust="spacingAndGlyphs" stroke="#111" stroke-width="0.09">Implement an ongoing evaluation system that gathers</text>
<text x="732.80" y="878.48" font-size="3.6" fill="#111" textLength="100.00" lengthAdjust="spacingAndGlyphs" stroke="#111" stroke-width="0.09">data from multiple sources and monitors progress toward the</text>
<text x="732.80" y="883.52" font-size="3.6" fill="#111" textLength="46.00" lengthAdjust="spacingAndGlyphs" stroke="#111" stroke-width="0.09">goals and desired outcomes.</text>
<text x="835.00" y="890.00" font-size="2.55" fill="#979797" font-style="italic" text-anchor="end" textLength="85.00" lengthAdjust="spacingAndGlyphs">Pathways to Educational Excellence for All © 2024 WestEd and Learning Forward</text>
</svg>
</body></html>
